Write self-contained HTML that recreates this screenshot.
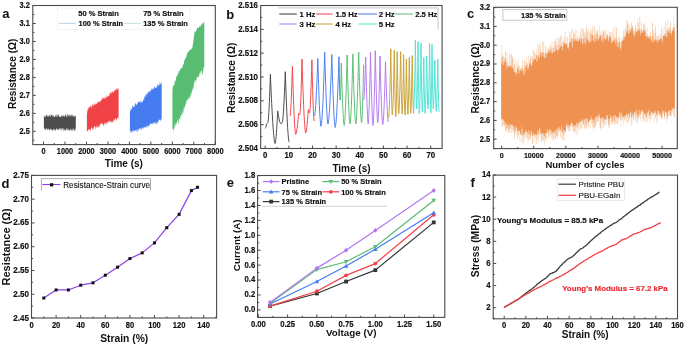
<!DOCTYPE html>
<html><head><meta charset="utf-8"><style>
html,body{margin:0;padding:0;background:#fff;}
svg{display:block;will-change:transform;}
text{font-family:"Liberation Sans",sans-serif;}
</style></head><body>
<svg width="685" height="345" viewBox="0 0 685 345">
<rect width="685" height="345" fill="#fff"/>
<rect x="57.6" y="8.1" width="132.4" height="21.4" fill="#fff" stroke="#f1f1f1" stroke-width="0.8"/>
<line x1="58.9" y1="23.4" x2="75.9" y2="23.4" stroke="#a9c6ef" stroke-width="0.8"/>
<line x1="124" y1="23.4" x2="141" y2="23.4" stroke="#b5e0c2" stroke-width="0.8"/>
<text x="78.30" y="16.20" font-size="7.50" font-weight="bold" text-anchor="start" fill="#111" stroke="#111" stroke-width="0.18">50 % Strain</text>
<text x="143.20" y="16.20" font-size="7.50" font-weight="bold" text-anchor="start" fill="#111" stroke="#111" stroke-width="0.18">75 % Strain</text>
<text x="78.50" y="25.70" font-size="7.50" font-weight="bold" text-anchor="start" fill="#111" stroke="#111" stroke-width="0.18">100 % Strain</text>
<text x="143.20" y="25.70" font-size="7.50" font-weight="bold" text-anchor="start" fill="#111" stroke="#111" stroke-width="0.18">135 % Strain</text>
<path d="M43.90,116.45 L44.15,115.25 L44.40,115.72 L44.65,117.05 L44.90,117.07 L45.16,117.04 L45.41,116.13 L45.66,116.95 L45.91,115.35 L46.16,115.56 L46.41,113.70 L46.66,114.30 L46.91,116.91 L47.17,116.50 L47.42,116.83 L47.67,115.30 L47.92,115.67 L48.17,117.05 L48.42,115.12 L48.67,116.48 L48.92,116.03 L49.17,114.61 L49.43,116.68 L49.68,115.76 L49.93,114.91 L50.18,113.68 L50.43,116.15 L50.68,116.89 L50.93,117.07 L51.18,114.75 L51.44,114.22 L51.69,115.06 L51.94,115.55 L52.19,114.39 L52.44,115.95 L52.69,117.05 L52.94,115.27 L53.19,114.48 L53.44,116.26 L53.70,117.09 L53.95,116.86 L54.20,117.05 L54.45,116.94 L54.70,116.24 L54.95,117.02 L55.20,115.67 L55.45,114.49 L55.71,116.58 L55.96,116.34 L56.21,113.80 L56.46,116.84 L56.71,116.70 L56.96,115.51 L57.21,117.10 L57.46,116.31 L57.71,113.82 L57.97,115.80 L58.22,115.14 L58.47,114.10 L58.72,114.22 L58.97,116.23 L59.22,116.98 L59.47,117.05 L59.72,116.76 L59.98,116.40 L60.23,117.10 L60.48,116.99 L60.73,117.09 L60.98,115.41 L61.23,116.65 L61.48,116.33 L61.73,114.35 L61.99,115.98 L62.24,117.01 L62.49,116.39 L62.74,114.44 L62.99,117.09 L63.24,115.75 L63.49,115.69 L63.74,115.75 L63.99,114.28 L64.25,116.63 L64.50,116.86 L64.75,115.73 L65.00,116.43 L65.25,114.53 L65.50,114.33 L65.75,114.49 L66.00,116.72 L66.26,116.35 L66.51,117.08 L66.76,116.64 L67.01,113.81 L67.26,113.91 L67.51,113.81 L67.76,116.74 L68.01,116.79 L68.26,115.36 L68.52,114.39 L68.77,115.24 L69.02,117.01 L69.27,114.05 L69.52,114.81 L69.77,116.83 L70.02,116.43 L70.27,113.73 L70.53,116.20 L70.78,114.93 L71.03,116.94 L71.28,114.07 L71.53,116.90 L71.78,113.68 L72.03,116.37 L72.28,116.93 L72.53,113.73 L72.79,115.75 L73.04,116.09 L73.29,114.46 L73.54,116.66 L73.79,116.68 L74.04,116.64 L74.29,116.93 L74.54,116.36 L74.80,115.53 L75.05,116.14 L75.30,115.85 L75.55,115.77 L75.80,116.07 L75.80,128.38 L75.55,128.11 L75.30,129.47 L75.05,131.19 L74.80,131.13 L74.54,129.19 L74.29,131.16 L74.04,129.05 L73.79,129.68 L73.54,128.66 L73.29,128.44 L73.04,130.97 L72.79,131.28 L72.53,129.94 L72.28,128.11 L72.03,129.53 L71.78,129.98 L71.53,130.74 L71.28,130.65 L71.03,128.31 L70.78,128.35 L70.53,131.34 L70.27,128.98 L70.02,130.62 L69.77,130.57 L69.52,129.26 L69.27,130.54 L69.02,129.99 L68.77,130.62 L68.52,129.27 L68.26,131.11 L68.01,128.43 L67.76,128.48 L67.51,128.88 L67.26,131.56 L67.01,129.15 L66.76,130.13 L66.51,128.62 L66.26,128.12 L66.00,129.41 L65.75,130.34 L65.50,130.65 L65.25,131.54 L65.00,128.47 L64.75,130.52 L64.50,130.49 L64.25,128.88 L63.99,130.14 L63.74,131.51 L63.49,128.12 L63.24,128.30 L62.99,131.36 L62.74,128.33 L62.49,128.58 L62.24,128.21 L61.99,129.28 L61.73,131.58 L61.48,128.25 L61.23,128.82 L60.98,128.30 L60.73,130.98 L60.48,128.87 L60.23,128.31 L59.98,128.14 L59.72,128.33 L59.47,128.16 L59.22,129.88 L58.97,128.99 L58.72,130.61 L58.47,130.52 L58.22,128.14 L57.97,129.81 L57.71,130.12 L57.46,129.60 L57.21,129.05 L56.96,128.57 L56.71,129.29 L56.46,128.49 L56.21,128.31 L55.96,131.03 L55.71,129.04 L55.45,130.93 L55.20,131.02 L54.95,129.16 L54.70,130.96 L54.45,128.53 L54.20,130.47 L53.95,128.24 L53.70,129.20 L53.44,130.02 L53.19,128.63 L52.94,131.58 L52.69,130.17 L52.44,130.01 L52.19,131.33 L51.94,129.18 L51.69,129.71 L51.44,128.72 L51.18,129.63 L50.93,130.02 L50.68,129.30 L50.43,130.42 L50.18,128.24 L49.93,128.64 L49.68,130.98 L49.43,129.63 L49.17,130.16 L48.92,128.68 L48.67,129.68 L48.42,129.08 L48.17,128.43 L47.92,128.16 L47.67,128.90 L47.42,129.66 L47.17,130.70 L46.91,128.24 L46.66,128.65 L46.41,128.14 L46.16,128.98 L45.91,131.35 L45.66,128.47 L45.41,130.75 L45.16,128.20 L44.90,129.11 L44.65,129.37 L44.40,128.88 L44.15,128.17 L43.90,128.31 Z" fill="#4e4e4e"/>
<path d="M86.90,114.30 L87.15,112.97 L87.40,109.67 L87.65,110.44 L87.91,108.46 L88.16,109.59 L88.41,109.11 L88.66,106.69 L88.91,107.65 L89.16,105.66 L89.42,107.19 L89.67,107.53 L89.92,107.62 L90.17,107.35 L90.42,106.12 L90.67,104.58 L90.93,106.48 L91.18,104.85 L91.43,107.71 L91.68,107.63 L91.93,107.47 L92.18,104.49 L92.43,106.96 L92.69,104.81 L92.94,103.43 L93.19,106.28 L93.44,105.50 L93.69,102.28 L93.94,105.94 L94.20,104.50 L94.45,105.51 L94.70,103.15 L94.95,103.82 L95.20,105.36 L95.45,103.15 L95.71,104.97 L95.96,101.96 L96.21,104.56 L96.46,104.50 L96.71,103.78 L96.96,103.06 L97.22,100.95 L97.47,103.62 L97.72,101.90 L97.97,103.42 L98.22,100.99 L98.47,103.11 L98.72,100.93 L98.98,102.76 L99.23,102.62 L99.48,101.25 L99.73,100.65 L99.98,101.61 L100.23,100.43 L100.49,101.70 L100.74,101.64 L100.99,100.80 L101.24,98.60 L101.49,99.71 L101.74,100.17 L102.00,100.33 L102.25,98.07 L102.50,100.17 L102.75,96.59 L103.00,97.10 L103.25,98.56 L103.50,98.82 L103.76,97.31 L104.01,98.68 L104.26,96.87 L104.51,98.11 L104.76,98.96 L105.01,98.76 L105.27,98.14 L105.52,98.40 L105.77,94.96 L106.02,97.55 L106.27,97.34 L106.52,97.58 L106.78,97.11 L107.03,93.51 L107.28,96.83 L107.53,96.45 L107.78,97.00 L108.03,95.47 L108.28,96.29 L108.54,96.50 L108.79,96.22 L109.04,96.13 L109.29,95.30 L109.54,93.96 L109.79,92.96 L110.05,92.97 L110.30,94.31 L110.55,91.09 L110.80,92.43 L111.05,94.78 L111.30,91.15 L111.56,91.87 L111.81,94.10 L112.06,92.66 L112.31,90.98 L112.56,91.96 L112.81,91.30 L113.07,93.02 L113.32,93.11 L113.57,93.01 L113.82,91.24 L114.07,90.75 L114.32,91.22 L114.57,89.52 L114.83,90.83 L115.08,89.92 L115.33,89.35 L115.58,91.72 L115.83,89.05 L116.08,88.83 L116.34,89.86 L116.59,89.76 L116.84,88.18 L117.09,88.66 L117.34,90.40 L117.59,87.80 L117.85,88.52 L118.10,90.07 L118.35,87.68 L118.60,87.49 L118.60,117.55 L118.35,119.39 L118.10,117.67 L117.85,117.18 L117.59,117.97 L117.34,117.90 L117.09,117.55 L116.84,119.57 L116.59,119.99 L116.34,118.72 L116.08,121.84 L115.83,118.31 L115.58,118.58 L115.33,118.63 L115.08,118.27 L114.83,119.92 L114.57,121.08 L114.32,118.48 L114.07,120.91 L113.82,120.73 L113.57,121.94 L113.32,119.75 L113.07,118.97 L112.81,121.44 L112.56,122.64 L112.31,122.35 L112.06,122.49 L111.81,120.99 L111.56,122.55 L111.30,121.66 L111.05,122.86 L110.80,121.93 L110.55,120.11 L110.30,120.74 L110.05,123.49 L109.79,122.37 L109.54,121.85 L109.29,120.80 L109.04,120.44 L108.79,121.57 L108.54,121.18 L108.28,122.20 L108.03,122.29 L107.78,121.88 L107.53,121.87 L107.28,125.03 L107.03,122.86 L106.78,125.19 L106.52,122.60 L106.27,122.75 L106.02,122.04 L105.77,123.92 L105.52,124.94 L105.27,122.10 L105.01,124.57 L104.76,122.20 L104.51,122.96 L104.26,124.31 L104.01,125.45 L103.76,126.43 L103.50,123.97 L103.25,125.74 L103.00,123.84 L102.75,122.90 L102.50,124.21 L102.25,124.64 L102.00,123.04 L101.74,123.13 L101.49,123.53 L101.24,123.96 L100.99,124.10 L100.74,123.87 L100.49,123.86 L100.23,124.17 L99.98,123.97 L99.73,127.58 L99.48,124.78 L99.23,127.39 L98.98,127.44 L98.72,127.23 L98.47,128.11 L98.22,125.58 L97.97,124.58 L97.72,127.05 L97.47,128.37 L97.22,125.34 L96.96,128.51 L96.71,125.18 L96.46,127.94 L96.21,125.74 L95.96,129.25 L95.71,129.42 L95.45,126.97 L95.20,126.33 L94.95,126.85 L94.70,125.74 L94.45,126.57 L94.20,126.73 L93.94,127.18 L93.69,129.26 L93.44,127.61 L93.19,130.15 L92.94,130.34 L92.69,126.69 L92.43,129.08 L92.18,130.19 L91.93,129.03 L91.68,127.33 L91.43,128.16 L91.18,127.24 L90.93,130.93 L90.67,127.76 L90.42,130.72 L90.17,131.20 L89.92,129.11 L89.67,129.98 L89.42,129.17 L89.16,129.00 L88.91,130.62 L88.66,129.46 L88.41,128.65 L88.16,129.89 L87.91,131.26 L87.65,130.38 L87.40,131.01 L87.15,131.10 L86.90,133.17 Z" fill="#f04247"/>
<path d="M129.90,111.89 L130.15,111.59 L130.40,109.25 L130.65,108.33 L130.90,111.23 L131.15,108.14 L131.40,109.20 L131.65,109.44 L131.90,108.94 L132.15,108.67 L132.40,105.38 L132.65,105.83 L132.90,105.29 L133.16,107.64 L133.41,106.63 L133.66,107.61 L133.91,106.34 L134.16,107.01 L134.41,106.37 L134.66,106.78 L134.91,103.87 L135.16,103.23 L135.41,103.15 L135.66,105.16 L135.91,102.24 L136.16,104.78 L136.41,104.83 L136.66,105.01 L136.91,104.38 L137.16,104.28 L137.41,103.28 L137.66,103.67 L137.91,101.46 L138.16,102.54 L138.41,101.00 L138.66,101.98 L138.91,101.84 L139.16,101.66 L139.41,103.33 L139.67,100.64 L139.92,102.55 L140.17,103.04 L140.42,100.13 L140.67,101.56 L140.92,101.88 L141.17,103.02 L141.42,102.84 L141.67,101.85 L141.92,99.96 L142.17,101.85 L142.42,102.53 L142.67,101.79 L142.92,101.63 L143.17,100.07 L143.42,98.85 L143.67,99.74 L143.92,99.42 L144.17,99.72 L144.42,95.97 L144.67,97.61 L144.92,95.60 L145.17,97.51 L145.42,96.79 L145.67,94.08 L145.93,94.16 L146.18,96.69 L146.43,93.40 L146.68,94.47 L146.93,94.87 L147.18,92.77 L147.43,91.71 L147.68,94.63 L147.93,93.11 L148.18,90.90 L148.43,91.95 L148.68,92.37 L148.93,93.11 L149.18,92.42 L149.43,90.66 L149.68,92.13 L149.93,90.34 L150.18,91.84 L150.43,90.48 L150.68,90.81 L150.93,89.87 L151.18,90.77 L151.43,87.89 L151.68,88.11 L151.93,90.48 L152.19,87.41 L152.44,89.97 L152.69,89.18 L152.94,89.30 L153.19,88.18 L153.44,89.57 L153.69,89.10 L153.94,87.65 L154.19,86.97 L154.44,88.06 L154.69,85.80 L154.94,86.40 L155.19,88.49 L155.44,88.13 L155.69,87.31 L155.94,88.01 L156.19,86.32 L156.44,87.87 L156.69,87.53 L156.94,87.50 L157.19,87.45 L157.44,84.32 L157.69,84.92 L157.94,83.77 L158.19,86.46 L158.44,84.29 L158.70,84.46 L158.95,85.37 L159.20,85.74 L159.45,85.28 L159.70,82.32 L159.95,82.09 L160.20,84.48 L160.45,82.42 L160.70,84.82 L160.95,83.87 L161.20,84.18 L161.45,81.30 L161.70,83.17 L161.70,120.57 L161.45,118.17 L161.20,119.08 L160.95,121.56 L160.70,119.76 L160.45,119.77 L160.20,121.54 L159.95,119.41 L159.70,119.38 L159.45,120.12 L159.20,119.54 L158.95,120.36 L158.70,120.67 L158.44,120.02 L158.19,123.34 L157.94,120.97 L157.69,123.97 L157.44,123.54 L157.19,121.64 L156.94,120.96 L156.69,124.46 L156.44,122.10 L156.19,124.64 L155.94,122.46 L155.69,121.87 L155.44,124.93 L155.19,124.06 L154.94,122.19 L154.69,122.48 L154.44,122.27 L154.19,124.25 L153.94,122.39 L153.69,123.12 L153.44,122.25 L153.19,125.43 L152.94,122.83 L152.69,124.39 L152.44,122.52 L152.19,124.66 L151.93,123.08 L151.68,123.88 L151.43,124.62 L151.18,123.97 L150.93,122.94 L150.68,123.38 L150.43,124.64 L150.18,123.21 L149.93,125.30 L149.68,123.85 L149.43,124.15 L149.18,126.83 L148.93,126.32 L148.68,125.49 L148.43,126.56 L148.18,126.52 L147.93,126.51 L147.68,124.90 L147.43,125.28 L147.18,127.79 L146.93,128.31 L146.68,125.33 L146.43,126.63 L146.18,127.75 L145.93,125.82 L145.67,128.72 L145.42,127.18 L145.17,126.72 L144.92,126.78 L144.67,128.26 L144.42,126.74 L144.17,127.17 L143.92,127.43 L143.67,128.15 L143.42,127.83 L143.17,129.91 L142.92,127.51 L142.67,127.22 L142.42,127.30 L142.17,127.47 L141.92,130.86 L141.67,127.80 L141.42,130.55 L141.17,127.83 L140.92,128.55 L140.67,128.33 L140.42,128.30 L140.17,130.15 L139.92,128.70 L139.67,128.23 L139.41,128.18 L139.16,130.04 L138.91,129.37 L138.66,128.42 L138.41,129.89 L138.16,131.61 L137.91,131.19 L137.66,131.98 L137.41,129.06 L137.16,129.33 L136.91,132.10 L136.66,131.66 L136.41,129.06 L136.16,130.06 L135.91,130.72 L135.66,130.05 L135.41,129.79 L135.16,131.41 L134.91,129.49 L134.66,131.68 L134.41,132.16 L134.16,130.21 L133.91,130.14 L133.66,130.82 L133.41,129.67 L133.16,132.71 L132.90,131.84 L132.65,131.10 L132.40,130.04 L132.15,131.26 L131.90,131.54 L131.65,133.27 L131.40,130.57 L131.15,133.49 L130.90,131.28 L130.65,133.43 L130.40,130.61 L130.15,130.49 L129.90,131.51 Z" fill="#477bf0"/>
<path d="M172.40,88.15 L172.65,89.62 L172.90,86.17 L173.15,86.27 L173.40,87.05 L173.66,84.03 L173.91,85.94 L174.16,85.15 L174.41,85.06 L174.66,81.60 L174.91,80.82 L175.16,82.73 L175.41,79.35 L175.67,80.80 L175.92,79.90 L176.17,77.17 L176.42,76.96 L176.67,76.11 L176.92,76.21 L177.17,76.38 L177.42,73.97 L177.67,75.14 L177.93,74.25 L178.18,73.86 L178.43,72.74 L178.68,70.36 L178.93,72.26 L179.18,72.28 L179.43,70.14 L179.68,71.37 L179.94,69.84 L180.19,69.02 L180.44,69.03 L180.69,67.98 L180.94,68.76 L181.19,67.77 L181.44,69.09 L181.69,68.97 L181.94,67.43 L182.20,67.72 L182.45,67.04 L182.70,65.39 L182.95,63.83 L183.20,65.22 L183.45,63.08 L183.70,64.79 L183.95,63.96 L184.21,60.30 L184.46,59.77 L184.71,59.34 L184.96,60.77 L185.21,57.53 L185.46,58.27 L185.71,58.70 L185.96,58.13 L186.21,57.16 L186.47,55.16 L186.72,56.12 L186.97,53.61 L187.22,54.12 L187.47,51.68 L187.72,53.17 L187.97,52.05 L188.22,50.98 L188.48,52.17 L188.73,51.32 L188.98,51.38 L189.23,51.14 L189.48,50.79 L189.73,48.67 L189.98,50.31 L190.23,48.80 L190.49,50.56 L190.74,49.45 L190.99,49.27 L191.24,48.87 L191.49,49.64 L191.74,47.78 L191.99,49.10 L192.24,48.03 L192.49,47.12 L192.75,44.65 L193.00,44.29 L193.25,40.64 L193.50,41.22 L193.75,37.12 L194.00,37.53 L194.25,34.30 L194.50,32.96 L194.76,31.86 L195.01,31.41 L195.26,32.39 L195.51,30.36 L195.76,32.01 L196.01,30.71 L196.26,31.33 L196.51,29.06 L196.76,30.57 L197.02,28.06 L197.27,27.27 L197.52,27.92 L197.77,27.62 L198.02,28.13 L198.27,27.92 L198.52,27.65 L198.77,28.39 L199.03,27.11 L199.28,25.87 L199.53,26.81 L199.78,26.56 L200.03,27.26 L200.28,27.11 L200.53,25.84 L200.78,25.18 L201.03,24.59 L201.29,25.23 L201.54,25.06 L201.79,23.04 L202.04,23.26 L202.29,23.60 L202.54,25.13 L202.79,24.10 L203.04,22.20 L203.30,22.56 L203.55,24.55 L203.80,22.30 L204.05,21.48 L204.30,21.64 L204.30,66.35 L204.05,67.22 L203.80,67.00 L203.55,68.22 L203.30,72.93 L203.04,67.91 L202.79,73.76 L202.54,74.31 L202.29,73.17 L202.04,75.21 L201.79,69.54 L201.54,71.09 L201.29,70.06 L201.03,74.75 L200.78,70.89 L200.53,71.17 L200.28,73.37 L200.03,73.68 L199.78,72.47 L199.53,73.11 L199.28,77.41 L199.03,74.11 L198.77,76.88 L198.52,76.00 L198.27,77.94 L198.02,77.74 L197.77,76.36 L197.52,78.27 L197.27,76.29 L197.02,76.46 L196.76,79.49 L196.51,82.61 L196.26,78.33 L196.01,79.44 L195.76,79.92 L195.51,79.18 L195.26,84.04 L195.01,80.11 L194.76,80.23 L194.50,83.32 L194.25,82.55 L194.00,81.90 L193.75,88.81 L193.50,83.75 L193.25,90.36 L193.00,87.30 L192.75,91.61 L192.49,87.70 L192.24,89.85 L191.99,91.51 L191.74,94.74 L191.49,92.63 L191.24,91.05 L190.99,96.45 L190.74,96.41 L190.49,97.65 L190.23,93.27 L189.98,93.75 L189.73,100.07 L189.48,95.94 L189.23,97.46 L188.98,101.20 L188.73,96.72 L188.48,99.98 L188.22,96.95 L187.97,99.90 L187.72,98.01 L187.47,100.91 L187.22,99.41 L186.97,99.85 L186.72,101.05 L186.47,100.95 L186.21,103.93 L185.96,102.18 L185.71,103.65 L185.46,105.96 L185.21,103.68 L184.96,108.48 L184.71,106.64 L184.46,106.80 L184.21,108.82 L183.95,107.12 L183.70,108.24 L183.45,113.44 L183.20,113.22 L182.95,109.31 L182.70,113.10 L182.45,111.06 L182.20,117.30 L181.94,112.79 L181.69,117.55 L181.44,113.63 L181.19,114.05 L180.94,115.56 L180.69,115.75 L180.44,115.63 L180.19,120.84 L179.94,119.74 L179.68,118.27 L179.43,118.81 L179.18,119.49 L178.93,117.74 L178.68,124.22 L178.43,124.49 L178.18,121.25 L177.93,119.08 L177.67,123.50 L177.42,119.80 L177.17,121.40 L176.92,121.55 L176.67,125.05 L176.42,125.11 L176.17,121.89 L175.92,123.96 L175.67,122.89 L175.41,128.39 L175.16,124.87 L174.91,123.24 L174.66,127.08 L174.41,128.68 L174.16,126.03 L173.91,129.61 L173.66,129.46 L173.40,127.90 L173.15,133.07 L172.90,129.08 L172.65,128.97 L172.40,129.55 Z" fill="#58bc72"/>
<rect x="32.8" y="5.5" width="182.5" height="139.1" fill="none" stroke="#4a4a4a" stroke-width="1.1"/>
<line x1="32.80" y1="131.30" x2="35.80" y2="131.30" stroke="#4a4a4a" stroke-width="1"/>
<line x1="32.80" y1="113.33" x2="35.80" y2="113.33" stroke="#4a4a4a" stroke-width="1"/>
<line x1="32.80" y1="95.36" x2="35.80" y2="95.36" stroke="#4a4a4a" stroke-width="1"/>
<line x1="32.80" y1="77.39" x2="35.80" y2="77.39" stroke="#4a4a4a" stroke-width="1"/>
<line x1="32.80" y1="59.42" x2="35.80" y2="59.42" stroke="#4a4a4a" stroke-width="1"/>
<line x1="32.80" y1="41.45" x2="35.80" y2="41.45" stroke="#4a4a4a" stroke-width="1"/>
<line x1="32.80" y1="23.48" x2="35.80" y2="23.48" stroke="#4a4a4a" stroke-width="1"/>
<line x1="32.80" y1="5.51" x2="35.80" y2="5.51" stroke="#4a4a4a" stroke-width="1"/>
<line x1="32.80" y1="140.28" x2="34.40" y2="140.28" stroke="#4a4a4a" stroke-width="1"/>
<line x1="32.80" y1="122.31" x2="34.40" y2="122.31" stroke="#4a4a4a" stroke-width="1"/>
<line x1="32.80" y1="104.34" x2="34.40" y2="104.34" stroke="#4a4a4a" stroke-width="1"/>
<line x1="32.80" y1="86.38" x2="34.40" y2="86.38" stroke="#4a4a4a" stroke-width="1"/>
<line x1="32.80" y1="68.41" x2="34.40" y2="68.41" stroke="#4a4a4a" stroke-width="1"/>
<line x1="32.80" y1="50.43" x2="34.40" y2="50.43" stroke="#4a4a4a" stroke-width="1"/>
<line x1="32.80" y1="32.46" x2="34.40" y2="32.46" stroke="#4a4a4a" stroke-width="1"/>
<line x1="32.80" y1="14.49" x2="34.40" y2="14.49" stroke="#4a4a4a" stroke-width="1"/>
<line x1="43.54" y1="144.60" x2="43.54" y2="141.60" stroke="#4a4a4a" stroke-width="1"/>
<line x1="65.01" y1="144.60" x2="65.01" y2="141.60" stroke="#4a4a4a" stroke-width="1"/>
<line x1="86.48" y1="144.60" x2="86.48" y2="141.60" stroke="#4a4a4a" stroke-width="1"/>
<line x1="107.95" y1="144.60" x2="107.95" y2="141.60" stroke="#4a4a4a" stroke-width="1"/>
<line x1="129.42" y1="144.60" x2="129.42" y2="141.60" stroke="#4a4a4a" stroke-width="1"/>
<line x1="150.89" y1="144.60" x2="150.89" y2="141.60" stroke="#4a4a4a" stroke-width="1"/>
<line x1="172.36" y1="144.60" x2="172.36" y2="141.60" stroke="#4a4a4a" stroke-width="1"/>
<line x1="193.83" y1="144.60" x2="193.83" y2="141.60" stroke="#4a4a4a" stroke-width="1"/>
<line x1="215.30" y1="144.60" x2="215.30" y2="141.60" stroke="#4a4a4a" stroke-width="1"/>
<line x1="54.27" y1="144.60" x2="54.27" y2="143.00" stroke="#4a4a4a" stroke-width="1"/>
<line x1="75.74" y1="144.60" x2="75.74" y2="143.00" stroke="#4a4a4a" stroke-width="1"/>
<line x1="97.21" y1="144.60" x2="97.21" y2="143.00" stroke="#4a4a4a" stroke-width="1"/>
<line x1="118.68" y1="144.60" x2="118.68" y2="143.00" stroke="#4a4a4a" stroke-width="1"/>
<line x1="140.16" y1="144.60" x2="140.16" y2="143.00" stroke="#4a4a4a" stroke-width="1"/>
<line x1="161.63" y1="144.60" x2="161.63" y2="143.00" stroke="#4a4a4a" stroke-width="1"/>
<line x1="183.10" y1="144.60" x2="183.10" y2="143.00" stroke="#4a4a4a" stroke-width="1"/>
<line x1="204.57" y1="144.60" x2="204.57" y2="143.00" stroke="#4a4a4a" stroke-width="1"/>
<text x="29.80" y="133.70" font-size="8.29" font-weight="bold" text-anchor="end" fill="#111" stroke="#111" stroke-width="0.18" textLength="10.29" lengthAdjust="spacingAndGlyphs">2.5</text>
<text x="29.80" y="115.73" font-size="8.29" font-weight="bold" text-anchor="end" fill="#111" stroke="#111" stroke-width="0.18" textLength="10.29" lengthAdjust="spacingAndGlyphs">2.6</text>
<text x="29.80" y="97.76" font-size="8.29" font-weight="bold" text-anchor="end" fill="#111" stroke="#111" stroke-width="0.18" textLength="10.29" lengthAdjust="spacingAndGlyphs">2.7</text>
<text x="29.80" y="79.79" font-size="8.29" font-weight="bold" text-anchor="end" fill="#111" stroke="#111" stroke-width="0.18" textLength="10.29" lengthAdjust="spacingAndGlyphs">2.8</text>
<text x="29.80" y="61.82" font-size="8.29" font-weight="bold" text-anchor="end" fill="#111" stroke="#111" stroke-width="0.18" textLength="10.29" lengthAdjust="spacingAndGlyphs">2.9</text>
<text x="29.80" y="43.85" font-size="8.29" font-weight="bold" text-anchor="end" fill="#111" stroke="#111" stroke-width="0.18" textLength="10.29" lengthAdjust="spacingAndGlyphs">3.0</text>
<text x="29.80" y="25.88" font-size="8.29" font-weight="bold" text-anchor="end" fill="#111" stroke="#111" stroke-width="0.18" textLength="10.29" lengthAdjust="spacingAndGlyphs">3.1</text>
<text x="29.80" y="7.91" font-size="8.29" font-weight="bold" text-anchor="end" fill="#111" stroke="#111" stroke-width="0.18" textLength="10.29" lengthAdjust="spacingAndGlyphs">3.2</text>
<text x="43.54" y="153.90" font-size="8.29" font-weight="bold" text-anchor="middle" fill="#111" stroke="#111" stroke-width="0.18" textLength="4.12" lengthAdjust="spacingAndGlyphs">0</text>
<text x="65.01" y="153.90" font-size="8.29" font-weight="bold" text-anchor="middle" fill="#111" stroke="#111" stroke-width="0.18" textLength="16.46" lengthAdjust="spacingAndGlyphs">1000</text>
<text x="86.48" y="153.90" font-size="8.29" font-weight="bold" text-anchor="middle" fill="#111" stroke="#111" stroke-width="0.18" textLength="16.46" lengthAdjust="spacingAndGlyphs">2000</text>
<text x="107.95" y="153.90" font-size="8.29" font-weight="bold" text-anchor="middle" fill="#111" stroke="#111" stroke-width="0.18" textLength="16.46" lengthAdjust="spacingAndGlyphs">3000</text>
<text x="129.42" y="153.90" font-size="8.29" font-weight="bold" text-anchor="middle" fill="#111" stroke="#111" stroke-width="0.18" textLength="16.46" lengthAdjust="spacingAndGlyphs">4000</text>
<text x="150.89" y="153.90" font-size="8.29" font-weight="bold" text-anchor="middle" fill="#111" stroke="#111" stroke-width="0.18" textLength="16.46" lengthAdjust="spacingAndGlyphs">5000</text>
<text x="172.36" y="153.90" font-size="8.29" font-weight="bold" text-anchor="middle" fill="#111" stroke="#111" stroke-width="0.18" textLength="16.46" lengthAdjust="spacingAndGlyphs">6000</text>
<text x="193.83" y="153.90" font-size="8.29" font-weight="bold" text-anchor="middle" fill="#111" stroke="#111" stroke-width="0.18" textLength="16.46" lengthAdjust="spacingAndGlyphs">7000</text>
<text x="215.30" y="153.90" font-size="8.29" font-weight="bold" text-anchor="middle" fill="#111" stroke="#111" stroke-width="0.18" textLength="16.46" lengthAdjust="spacingAndGlyphs">8000</text>
<text x="123.80" y="166.50" font-size="10.00" font-weight="bold" text-anchor="middle" fill="#111" stroke="#111" stroke-width="0.0">Time (s)</text>
<text x="16.30" y="73.80" font-size="10.00" font-weight="bold" text-anchor="middle" fill="#111" stroke="#111" stroke-width="0.0" transform="rotate(-90 16.3 73.8)">Resistance (Ω)</text>
<text x="2.30" y="18.40" font-size="13.00" font-weight="bold" text-anchor="start" fill="#111" stroke="#111" stroke-width="0.0">a</text>
<rect x="278.4" y="7.9" width="159.6" height="21" fill="#fff" stroke="none"/>
<path d="M278.4,7.9 H438 V28.9" fill="none" stroke="#bdbdbd" stroke-width="0.9"/>
<line x1="279.3" y1="14" x2="296.8" y2="14" stroke="#333" stroke-width="1"/>
<text x="299.50" y="16.80" font-size="7.70" font-weight="bold" text-anchor="start" fill="#111" stroke="#111" stroke-width="0.18">1 Hz</text>
<line x1="316" y1="14" x2="332.7" y2="14" stroke="#f04247" stroke-width="1"/>
<text x="335.40" y="16.80" font-size="7.70" font-weight="bold" text-anchor="start" fill="#111" stroke="#111" stroke-width="0.18">1.5 Hz</text>
<line x1="358" y1="14" x2="377" y2="14" stroke="#477bf0" stroke-width="1"/>
<text x="378.80" y="16.80" font-size="7.70" font-weight="bold" text-anchor="start" fill="#111" stroke="#111" stroke-width="0.18">2 Hz</text>
<line x1="395" y1="14" x2="413" y2="14" stroke="#58bc72" stroke-width="1"/>
<text x="415.20" y="16.80" font-size="7.70" font-weight="bold" text-anchor="start" fill="#111" stroke="#111" stroke-width="0.18">2.5 Hz</text>
<line x1="279.3" y1="24" x2="296.8" y2="24" stroke="#b277f0" stroke-width="1"/>
<text x="299.50" y="26.80" font-size="7.70" font-weight="bold" text-anchor="start" fill="#111" stroke="#111" stroke-width="0.18">3 Hz</text>
<line x1="316" y1="24" x2="332.7" y2="24" stroke="#c9a031" stroke-width="1"/>
<text x="335.40" y="26.80" font-size="7.70" font-weight="bold" text-anchor="start" fill="#111" stroke="#111" stroke-width="0.18">4 Hz</text>
<line x1="358.7" y1="24" x2="377" y2="24" stroke="#4fe3d4" stroke-width="1"/>
<text x="378.80" y="26.80" font-size="7.70" font-weight="bold" text-anchor="start" fill="#111" stroke="#111" stroke-width="0.18">5 Hz</text>
<path d="M265.20,128.40 L265.46,128.11 L265.72,127.47 L265.98,126.55 L266.24,125.39 L266.50,124.00 L266.76,123.91 L267.02,123.71 L267.28,123.41 L267.54,123.04 L267.80,122.60 L268.06,121.64 L268.32,119.47 L268.58,116.36 L268.84,112.43 L269.10,107.73 L269.36,102.33 L269.62,96.26 L269.88,89.55 L270.14,82.22 L270.40,74.30 L270.66,80.71 L270.92,86.86 L271.18,92.74 L271.44,98.36 L271.71,103.70 L271.97,108.77 L272.23,113.54 L272.49,118.02 L272.75,122.20 L273.01,126.07 L273.27,129.61 L273.53,132.81 L273.79,135.66 L274.06,138.13 L274.32,140.21 L274.58,141.85 L274.84,142.99 L275.10,143.50 L275.36,142.85 L275.62,141.39 L275.88,139.29 L276.14,136.63 L276.40,133.47 L276.66,129.82 L276.92,125.72 L277.18,121.19 L277.44,116.25 L277.70,110.90 L277.97,112.69 L278.23,114.36 L278.50,115.93 L278.77,117.37 L279.03,118.70 L279.30,119.90 L279.57,120.97 L279.83,121.89 L280.10,122.67 L280.37,123.28 L280.63,123.71 L280.90,123.90 L281.16,123.82 L281.42,123.63 L281.68,123.35 L281.94,123.01 L282.20,122.60 L282.46,121.86 L282.72,120.18 L282.98,117.78 L283.23,114.74 L283.49,111.11 L283.75,106.93 L284.01,102.24 L284.27,97.05 L284.52,91.39 L284.78,85.27 L285.04,78.70 L285.30,71.70 L285.56,79.50 L285.82,86.92 L286.08,93.96 L286.34,100.59 L286.60,106.81 L286.86,112.62 L287.12,117.98 L287.38,122.90 L287.64,127.35 L287.90,131.31 L288.16,134.75 L288.42,137.63 L288.68,139.91 L288.94,141.49 L289.20,142.20" fill="none" stroke="#444" stroke-width="0.95" stroke-linejoin="round"/>
<path d="M290.00,116.10 L290.27,114.91 L290.53,112.25 L290.80,108.42 L291.07,103.58 L291.33,97.80 L291.60,91.15 L291.87,83.68 L292.13,75.42 L292.40,66.40 L292.65,75.05 L292.91,83.21 L293.16,90.87 L293.42,98.01 L293.67,104.61 L293.92,110.66 L294.18,116.13 L294.43,121.00 L294.68,125.23 L294.94,128.78 L295.19,131.58 L295.45,133.53 L295.70,134.40 L295.96,134.05 L296.23,133.25 L296.49,132.10 L296.75,130.66 L297.02,128.93 L297.28,126.94 L297.55,124.71 L297.81,122.24 L298.07,119.54 L298.34,116.63 L298.60,113.50 L298.88,114.00 L299.15,114.40 L299.43,114.68 L299.70,114.80 L299.96,113.47 L300.21,110.47 L300.47,106.18 L300.72,100.74 L300.98,94.26 L301.23,86.79 L301.49,78.40 L301.74,69.13 L302.00,59.00 L302.26,67.76 L302.53,76.06 L302.79,83.89 L303.06,91.23 L303.32,98.08 L303.59,104.42 L303.85,110.22 L304.11,115.47 L304.38,120.15 L304.64,124.20 L304.91,127.61 L305.17,130.29 L305.44,132.17 L305.70,133.00 L305.96,132.53 L306.22,131.48 L306.48,129.98 L306.74,128.07 L307.00,125.80 L307.26,123.18 L307.52,120.24 L307.78,116.99 L308.04,113.44 L308.30,109.60 L308.60,110.92 L308.90,111.95 L309.20,112.68 L309.50,113.00 L309.77,111.73 L310.03,108.87 L310.30,104.78 L310.57,99.60 L310.83,93.41 L311.10,86.30 L311.37,78.30 L311.63,69.45 L311.90,59.80 L312.16,70.91 L312.41,81.08 L312.67,90.28 L312.92,98.47 L313.18,105.58 L313.43,111.55 L313.69,116.25 L313.94,119.54 L314.20,121.00" fill="none" stroke="#f04247" stroke-width="0.95" stroke-linejoin="round"/>
<path d="M314.50,115.90 L314.75,115.17 L315.01,113.52 L315.26,111.15 L315.52,108.16 L315.77,104.59 L316.02,100.48 L316.28,95.86 L316.53,90.75 L316.78,85.18 L317.04,79.15 L317.29,72.69 L317.55,65.80 L317.80,58.50 L318.07,67.84 L318.33,76.60 L318.60,84.76 L318.87,92.32 L319.13,99.24 L319.40,105.50 L319.67,111.07 L319.93,115.91 L320.20,119.97 L320.47,123.17 L320.73,125.41 L321.00,126.40 L321.26,125.56 L321.53,123.69 L321.79,120.99 L322.06,117.58 L322.32,113.51 L322.59,108.83 L322.85,103.56 L323.11,97.74 L323.38,91.39 L323.64,84.52 L323.91,77.16 L324.17,69.31 L324.44,60.98 L324.70,52.20 L324.95,61.33 L325.21,69.95 L325.46,78.04 L325.72,85.57 L325.97,92.55 L326.22,98.93 L326.48,104.71 L326.73,109.85 L326.98,114.32 L327.24,118.06 L327.49,121.02 L327.75,123.08 L328.00,124.00 L328.25,123.30 L328.51,121.74 L328.76,119.49 L329.01,116.65 L329.27,113.26 L329.52,109.36 L329.77,104.98 L330.03,100.13 L330.28,94.84 L330.53,89.12 L330.79,82.98 L331.04,76.44 L331.29,69.51 L331.55,62.19 L331.80,54.50 L332.06,63.79 L332.32,72.55 L332.58,80.77 L332.85,88.43 L333.11,95.52 L333.37,102.01 L333.63,107.89 L333.89,113.12 L334.15,117.66 L334.42,121.46 L334.68,124.47 L334.94,126.57 L335.20,127.50 L335.45,126.79 L335.71,125.20 L335.96,122.92 L336.21,120.03 L336.47,116.58 L336.72,112.61 L336.97,108.15 L337.23,103.22 L337.48,97.83 L337.73,92.01 L337.99,85.77 L338.24,79.12 L338.49,72.07 L338.75,64.62 L339.00,56.80 L339.30,73.51 L339.60,86.70 L339.90,95.91 L340.20,100.00" fill="none" stroke="#477bf0" stroke-width="0.95" stroke-linejoin="round"/>
<path d="M340.20,100.00 L340.48,96.51 L340.75,88.67 L341.02,77.43 L341.30,63.20 L341.56,72.52 L341.83,81.21 L342.09,89.24 L342.35,96.61 L342.62,103.27 L342.88,109.19 L343.15,114.34 L343.41,118.66 L343.67,122.07 L343.94,124.44 L344.20,125.50 L344.46,124.30 L344.73,121.61 L344.99,117.76 L345.25,112.87 L345.52,107.05 L345.78,100.34 L346.05,92.80 L346.31,84.47 L346.57,75.38 L346.84,65.55 L347.10,55.00 L347.36,65.32 L347.63,74.94 L347.89,83.85 L348.15,92.00 L348.42,99.38 L348.68,105.94 L348.95,111.64 L349.21,116.42 L349.47,120.20 L349.74,122.83 L350.00,124.00 L350.26,122.81 L350.53,120.14 L350.79,116.30 L351.05,111.44 L351.32,105.65 L351.58,98.98 L351.85,91.49 L352.11,83.21 L352.37,74.16 L352.64,64.39 L352.90,53.90 L353.16,64.39 L353.43,74.16 L353.69,83.21 L353.95,91.49 L354.22,98.98 L354.48,105.65 L354.75,111.44 L355.01,116.30 L355.27,120.14 L355.54,122.81 L355.80,124.00 L356.06,122.78 L356.33,120.04 L356.59,116.11 L356.85,111.14 L357.12,105.21 L357.38,98.38 L357.65,90.70 L357.91,82.22 L358.17,72.95 L358.44,62.94 L358.70,52.20 L358.96,62.73 L359.23,72.55 L359.49,81.63 L359.75,89.95 L360.02,97.48 L360.28,104.17 L360.55,109.99 L360.81,114.87 L361.07,118.72 L361.34,121.41 L361.60,122.60 L361.85,120.91 L362.10,117.11 L362.35,111.65 L362.60,104.75 L362.85,96.51 L363.10,87.03 L363.35,76.38 L363.60,64.60" fill="none" stroke="#58bc72" stroke-width="0.95" stroke-linejoin="round"/>
<path d="M363.60,100.00 L363.86,98.75 L364.12,95.93 L364.39,91.88 L364.65,86.77 L364.91,80.66 L365.18,73.63 L365.44,65.73 L365.70,57.00 L365.95,67.99 L366.20,78.15 L366.45,87.46 L366.70,95.89 L366.95,103.38 L367.20,109.89 L367.45,115.35 L367.70,119.66 L367.95,122.66 L368.20,124.00 L368.46,122.29 L368.71,118.44 L368.97,112.92 L369.22,105.94 L369.48,97.60 L369.73,88.01 L369.99,77.23 L370.24,65.31 L370.50,52.30 L370.75,64.30 L371.00,75.41 L371.25,85.58 L371.50,94.78 L371.75,102.97 L372.00,110.08 L372.25,116.05 L372.50,120.75 L372.75,124.04 L373.00,125.50 L373.26,123.71 L373.51,119.70 L373.77,113.94 L374.02,106.66 L374.28,97.96 L374.53,87.96 L374.79,76.71 L375.04,64.27 L375.30,50.70 L375.55,62.47 L375.80,73.37 L376.05,83.34 L376.30,92.37 L376.55,100.40 L376.80,107.38 L377.05,113.23 L377.30,117.85 L377.55,121.07 L377.80,122.50 L378.07,120.56 L378.35,116.20 L378.62,109.95 L378.90,102.03 L379.18,92.59 L379.45,81.72 L379.73,69.50 L380.00,56.00 L380.25,66.25 L380.51,75.80 L380.76,84.64 L381.02,92.73 L381.27,100.06 L381.53,106.57 L381.78,112.23 L382.04,116.98 L382.29,120.72 L382.55,123.34 L382.80,124.50 L383.07,123.25 L383.34,120.44 L383.61,116.40 L383.88,111.29 L384.15,105.20 L384.42,98.19 L384.69,90.31 L384.96,81.59 L385.23,72.08 L385.50,61.80 L385.76,70.80 L386.03,79.20 L386.29,86.97 L386.55,94.08 L386.82,100.52 L387.08,106.24 L387.35,111.22 L387.61,115.39 L387.87,118.68 L388.14,120.98 L388.40,122.00" fill="none" stroke="#b277f0" stroke-width="0.95" stroke-linejoin="round"/>
<path d="M388.60,118.00 L388.88,115.98 L389.15,111.44 L389.43,104.94 L389.70,96.70 L389.98,86.88 L390.25,75.57 L390.53,62.85 L390.80,48.80 L391.05,66.45 L391.30,81.78 L391.55,94.63 L391.80,104.78 L392.05,111.86 L392.30,115.01 L392.55,113.12 L392.80,108.88 L393.05,102.80 L393.30,95.09 L393.55,85.90 L393.80,75.33 L394.05,63.44 L394.30,50.30 L394.55,67.99 L394.80,83.36 L395.05,96.25 L395.30,106.42 L395.55,113.52 L395.80,116.68 L396.08,112.47 L396.36,102.99 L396.64,89.41 L396.92,72.21 L397.20,51.70 L397.45,68.26 L397.70,82.65 L397.95,94.71 L398.20,104.23 L398.45,110.88 L398.70,113.83 L398.95,112.02 L399.20,107.95 L399.45,102.11 L399.70,94.71 L399.95,85.89 L400.20,75.73 L400.45,64.32 L400.70,51.70 L400.95,68.32 L401.20,82.76 L401.45,94.86 L401.70,104.42 L401.95,111.09 L402.20,114.05 L402.48,110.20 L402.76,101.53 L403.04,89.10 L403.32,73.37 L403.60,54.60 L403.85,70.70 L404.10,84.70 L404.35,96.43 L404.60,105.69 L404.85,112.15 L405.10,115.02 L405.36,111.39 L405.62,103.22 L405.88,91.52 L406.14,76.69 L406.40,59.00 L406.65,73.73 L406.90,86.53 L407.15,97.26 L407.40,105.74 L407.65,111.65 L407.90,114.28 L408.18,110.60 L408.46,102.32 L408.74,90.45 L409.02,75.42 L409.30,57.50 L409.55,72.33 L409.80,85.22 L410.05,96.02 L410.30,104.55 L410.55,110.50 L410.80,113.15 L411.08,109.41 L411.36,101.01 L411.64,88.96 L411.92,73.70 L412.20,55.50 L412.45,71.02 L412.70,84.50 L412.95,95.81 L413.20,104.73 L413.45,110.96 L413.70,113.73" fill="none" stroke="#c9a031" stroke-width="0.95" stroke-linejoin="round"/>
<path d="M413.60,112.00 L413.86,109.37 L414.11,103.44 L414.37,94.95 L414.63,84.19 L414.89,71.36 L415.14,56.60 L415.40,40.00 L415.66,61.77 L415.92,80.03 L416.18,94.44 L416.44,104.50 L416.70,108.97 L416.96,104.60 L417.22,94.78 L417.48,80.70 L417.74,62.87 L418.00,41.60 L418.26,64.34 L418.52,83.40 L418.78,98.45 L419.04,108.95 L419.30,113.62 L419.58,110.26 L419.87,102.71 L420.15,91.88 L420.43,78.17 L420.72,61.82 L421.00,43.00 L421.26,64.81 L421.52,83.09 L421.78,97.53 L422.04,107.60 L422.30,112.08 L422.55,109.48 L422.80,103.65 L423.05,95.28 L423.30,84.68 L423.55,72.05 L423.80,57.50 L424.06,75.14 L424.32,89.93 L424.58,101.60 L424.84,109.75 L425.10,113.37 L425.37,110.64 L425.63,104.51 L425.90,95.71 L426.17,84.58 L426.43,71.29 L426.70,56.00 L426.96,72.74 L427.22,86.77 L427.48,97.85 L427.74,105.58 L428.00,109.01 L428.27,105.87 L428.53,98.81 L428.80,88.69 L429.07,75.88 L429.33,60.59 L429.60,43.00 L429.86,65.01 L430.12,83.46 L430.38,98.03 L430.64,108.19 L430.90,112.71 L431.18,106.25 L431.45,91.72 L431.73,70.88 L432.00,44.50 L432.26,64.76 L432.52,81.75 L432.78,95.17 L433.04,104.53 L433.30,108.69 L433.57,106.39 L433.83,101.23 L434.10,93.83 L434.37,84.45 L434.63,73.27 L434.90,60.40 L435.16,76.43 L435.42,89.87 L435.68,100.49 L435.94,107.89 L436.20,111.18 L436.47,108.70 L436.73,103.12 L437.00,95.12 L437.27,84.99 L437.53,72.91 L437.80,59.00 L438.06,75.67 L438.32,89.65 L438.58,100.69 L438.84,108.39 L439.10,111.82" fill="none" stroke="#4fe3d4" stroke-width="0.95" stroke-linejoin="round"/>
<rect x="260.7" y="5.5" width="181.40000000000003" height="143.0" fill="none" stroke="#4a4a4a" stroke-width="1.1"/>
<line x1="260.70" y1="148.50" x2="263.70" y2="148.50" stroke="#4a4a4a" stroke-width="1"/>
<line x1="260.70" y1="124.67" x2="263.70" y2="124.67" stroke="#4a4a4a" stroke-width="1"/>
<line x1="260.70" y1="100.84" x2="263.70" y2="100.84" stroke="#4a4a4a" stroke-width="1"/>
<line x1="260.70" y1="77.01" x2="263.70" y2="77.01" stroke="#4a4a4a" stroke-width="1"/>
<line x1="260.70" y1="53.18" x2="263.70" y2="53.18" stroke="#4a4a4a" stroke-width="1"/>
<line x1="260.70" y1="29.35" x2="263.70" y2="29.35" stroke="#4a4a4a" stroke-width="1"/>
<line x1="260.70" y1="5.52" x2="263.70" y2="5.52" stroke="#4a4a4a" stroke-width="1"/>
<line x1="260.70" y1="136.59" x2="262.30" y2="136.59" stroke="#4a4a4a" stroke-width="1"/>
<line x1="260.70" y1="112.76" x2="262.30" y2="112.76" stroke="#4a4a4a" stroke-width="1"/>
<line x1="260.70" y1="88.93" x2="262.30" y2="88.93" stroke="#4a4a4a" stroke-width="1"/>
<line x1="260.70" y1="65.10" x2="262.30" y2="65.10" stroke="#4a4a4a" stroke-width="1"/>
<line x1="260.70" y1="41.27" x2="262.30" y2="41.27" stroke="#4a4a4a" stroke-width="1"/>
<line x1="260.70" y1="17.44" x2="262.30" y2="17.44" stroke="#4a4a4a" stroke-width="1"/>
<line x1="265.20" y1="148.50" x2="265.20" y2="145.50" stroke="#4a4a4a" stroke-width="1"/>
<line x1="288.85" y1="148.50" x2="288.85" y2="145.50" stroke="#4a4a4a" stroke-width="1"/>
<line x1="312.50" y1="148.50" x2="312.50" y2="145.50" stroke="#4a4a4a" stroke-width="1"/>
<line x1="336.15" y1="148.50" x2="336.15" y2="145.50" stroke="#4a4a4a" stroke-width="1"/>
<line x1="359.80" y1="148.50" x2="359.80" y2="145.50" stroke="#4a4a4a" stroke-width="1"/>
<line x1="383.45" y1="148.50" x2="383.45" y2="145.50" stroke="#4a4a4a" stroke-width="1"/>
<line x1="407.10" y1="148.50" x2="407.10" y2="145.50" stroke="#4a4a4a" stroke-width="1"/>
<line x1="430.75" y1="148.50" x2="430.75" y2="145.50" stroke="#4a4a4a" stroke-width="1"/>
<line x1="277.02" y1="148.50" x2="277.02" y2="146.90" stroke="#4a4a4a" stroke-width="1"/>
<line x1="300.68" y1="148.50" x2="300.68" y2="146.90" stroke="#4a4a4a" stroke-width="1"/>
<line x1="324.32" y1="148.50" x2="324.32" y2="146.90" stroke="#4a4a4a" stroke-width="1"/>
<line x1="347.98" y1="148.50" x2="347.98" y2="146.90" stroke="#4a4a4a" stroke-width="1"/>
<line x1="371.62" y1="148.50" x2="371.62" y2="146.90" stroke="#4a4a4a" stroke-width="1"/>
<line x1="395.27" y1="148.50" x2="395.27" y2="146.90" stroke="#4a4a4a" stroke-width="1"/>
<line x1="418.93" y1="148.50" x2="418.93" y2="146.90" stroke="#4a4a4a" stroke-width="1"/>
<text x="258.00" y="151.00" font-size="8.85" font-weight="bold" text-anchor="end" fill="#111" stroke="#111" stroke-width="0.18" textLength="19.77" lengthAdjust="spacingAndGlyphs">2.504</text>
<text x="258.00" y="127.17" font-size="8.85" font-weight="bold" text-anchor="end" fill="#111" stroke="#111" stroke-width="0.18" textLength="19.77" lengthAdjust="spacingAndGlyphs">2.506</text>
<text x="258.00" y="103.34" font-size="8.85" font-weight="bold" text-anchor="end" fill="#111" stroke="#111" stroke-width="0.18" textLength="19.77" lengthAdjust="spacingAndGlyphs">2.508</text>
<text x="258.00" y="79.51" font-size="8.85" font-weight="bold" text-anchor="end" fill="#111" stroke="#111" stroke-width="0.18" textLength="19.77" lengthAdjust="spacingAndGlyphs">2.510</text>
<text x="258.00" y="55.68" font-size="8.85" font-weight="bold" text-anchor="end" fill="#111" stroke="#111" stroke-width="0.18" textLength="19.77" lengthAdjust="spacingAndGlyphs">2.512</text>
<text x="258.00" y="31.85" font-size="8.85" font-weight="bold" text-anchor="end" fill="#111" stroke="#111" stroke-width="0.18" textLength="19.77" lengthAdjust="spacingAndGlyphs">2.514</text>
<text x="258.00" y="8.02" font-size="8.85" font-weight="bold" text-anchor="end" fill="#111" stroke="#111" stroke-width="0.18" textLength="19.77" lengthAdjust="spacingAndGlyphs">2.516</text>
<text x="265.20" y="157.50" font-size="8.74" font-weight="bold" text-anchor="middle" fill="#111" stroke="#111" stroke-width="0.18" textLength="4.34" lengthAdjust="spacingAndGlyphs">0</text>
<text x="288.85" y="157.50" font-size="8.74" font-weight="bold" text-anchor="middle" fill="#111" stroke="#111" stroke-width="0.18" textLength="8.68" lengthAdjust="spacingAndGlyphs">10</text>
<text x="312.50" y="157.50" font-size="8.74" font-weight="bold" text-anchor="middle" fill="#111" stroke="#111" stroke-width="0.18" textLength="8.68" lengthAdjust="spacingAndGlyphs">20</text>
<text x="336.15" y="157.50" font-size="8.74" font-weight="bold" text-anchor="middle" fill="#111" stroke="#111" stroke-width="0.18" textLength="8.68" lengthAdjust="spacingAndGlyphs">30</text>
<text x="359.80" y="157.50" font-size="8.74" font-weight="bold" text-anchor="middle" fill="#111" stroke="#111" stroke-width="0.18" textLength="8.68" lengthAdjust="spacingAndGlyphs">40</text>
<text x="383.45" y="157.50" font-size="8.74" font-weight="bold" text-anchor="middle" fill="#111" stroke="#111" stroke-width="0.18" textLength="8.68" lengthAdjust="spacingAndGlyphs">50</text>
<text x="407.10" y="157.50" font-size="8.74" font-weight="bold" text-anchor="middle" fill="#111" stroke="#111" stroke-width="0.18" textLength="8.68" lengthAdjust="spacingAndGlyphs">60</text>
<text x="430.75" y="157.50" font-size="8.74" font-weight="bold" text-anchor="middle" fill="#111" stroke="#111" stroke-width="0.18" textLength="8.68" lengthAdjust="spacingAndGlyphs">70</text>
<text x="351.50" y="171.60" font-size="10.00" font-weight="bold" text-anchor="middle" fill="#111" stroke="#111" stroke-width="0.0">Time (s)</text>
<text x="235.40" y="77.90" font-size="10.00" font-weight="bold" text-anchor="middle" fill="#111" stroke="#111" stroke-width="0.0" transform="rotate(-90 235.4 77.9)">Resistance (Ω)</text>
<text x="226.20" y="18.50" font-size="13.00" font-weight="bold" text-anchor="start" fill="#111" stroke="#111" stroke-width="0.0">b</text>
<path d="M501.40,64.00 L502.27,64.31 L503.13,64.62 L504.00,64.93 L504.87,65.24 L505.73,65.55 L506.60,65.86 L507.47,66.41 L508.33,67.17 L509.20,67.92 L510.06,68.68 L510.93,69.44 L511.80,70.20 L512.66,70.96 L513.53,71.71 L514.40,72.47 L515.26,73.13 L516.13,73.57 L517.00,74.00 L517.86,74.43 L518.73,74.87 L519.60,75.30 L520.46,75.73 L521.33,75.72 L522.20,74.97 L523.06,74.23 L523.93,73.49 L524.80,72.75 L525.66,72.00 L526.53,71.26 L527.39,70.52 L528.26,69.74 L529.13,68.87 L529.99,68.01 L530.86,67.14 L531.73,66.27 L532.59,65.41 L533.46,64.54 L534.33,63.67 L535.19,62.81 L536.06,61.97 L536.93,61.58 L537.79,61.19 L538.66,60.80 L539.53,60.41 L540.39,60.02 L541.26,59.63 L542.13,59.24 L542.99,58.85 L543.86,58.46 L544.73,58.07 L545.59,57.68 L546.46,57.27 L547.32,56.84 L548.19,56.40 L549.06,55.97 L549.92,55.54 L550.79,55.10 L551.66,54.67 L552.52,54.24 L553.39,53.81 L554.26,53.37 L555.12,52.94 L555.99,52.51 L556.86,52.11 L557.72,51.72 L558.59,51.33 L559.46,50.95 L560.32,50.56 L561.19,50.17 L562.06,49.78 L562.92,49.39 L563.79,49.00 L564.65,48.61 L565.52,48.22 L566.39,47.86 L567.25,47.56 L568.12,47.26 L568.99,46.95 L569.85,46.65 L570.72,46.35 L571.59,46.04 L572.45,45.74 L573.32,45.44 L574.19,45.13 L575.05,44.83 L575.92,44.53 L576.79,44.41 L577.65,44.32 L578.52,44.22 L579.38,44.12 L580.25,44.03 L581.12,43.93 L581.98,43.84 L582.85,43.74 L583.72,43.64 L584.58,43.55 L585.45,43.41 L586.32,43.24 L587.18,43.06 L588.05,42.89 L588.92,42.72 L589.78,42.54 L590.65,42.37 L591.52,42.20 L592.38,42.02 L593.25,41.85 L594.12,41.68 L594.98,41.50 L595.85,41.50 L596.72,41.50 L597.58,41.50 L598.45,41.50 L599.31,41.50 L600.18,41.50 L601.05,41.50 L601.91,41.50 L602.78,41.50 L603.65,41.50 L604.51,41.50 L605.38,41.62 L606.25,41.89 L607.11,42.16 L607.98,42.43 L608.85,42.70 L609.71,42.97 L610.58,43.24 L611.45,43.51 L612.31,43.79 L613.18,44.13 L614.05,44.75 L614.91,45.37 L615.78,45.98 L616.64,46.60 L617.51,47.22 L618.38,47.84 L619.24,48.46 L620.11,48.82 L620.98,47.37 L621.84,45.93 L622.71,44.48 L623.58,43.04 L624.44,41.60 L625.31,40.15 L626.18,38.87 L627.04,38.22 L627.91,37.57 L628.78,36.92 L629.64,36.27 L630.51,35.62 L631.38,34.97 L632.24,34.52 L633.11,34.57 L633.97,34.62 L634.84,34.68 L635.71,34.73 L636.57,34.79 L637.44,34.84 L638.31,34.89 L639.17,34.95 L640.04,35.03 L640.91,35.68 L641.77,36.33 L642.64,36.98 L643.51,37.63 L644.37,38.28 L645.24,38.93 L646.11,39.58 L646.97,40.23 L647.84,40.88 L648.71,41.35 L649.57,41.79 L650.44,42.22 L651.30,42.65 L652.17,43.09 L653.04,43.52 L653.90,43.95 L654.77,44.39 L655.64,44.23 L656.50,43.86 L657.37,43.48 L658.24,43.11 L659.10,42.74 L659.97,42.37 L660.84,42.00 L661.70,41.63 L662.57,41.11 L663.44,40.51 L664.30,39.92 L665.17,39.32 L666.04,38.73 L666.90,38.13 L667.77,37.53 L668.63,36.94 L669.50,36.34 L670.37,35.77 L671.23,35.21 L672.10,34.66 L672.97,34.11 L673.83,33.55 L674.70,33.00 L674.70,108.00 L673.83,108.22 L672.97,108.45 L672.10,108.67 L671.23,108.89 L670.37,109.12 L669.50,109.34 L668.63,109.56 L667.77,109.79 L666.90,110.01 L666.04,110.23 L665.17,110.46 L664.30,110.52 L663.44,110.55 L662.57,110.58 L661.70,110.61 L660.84,110.64 L659.97,110.67 L659.10,110.70 L658.24,110.73 L657.37,110.75 L656.50,110.78 L655.64,110.81 L654.77,110.84 L653.90,110.87 L653.04,110.90 L652.17,110.93 L651.30,110.96 L650.44,110.99 L649.57,110.97 L648.71,110.91 L647.84,110.86 L646.97,110.80 L646.11,110.74 L645.24,110.68 L644.37,110.62 L643.51,110.57 L642.64,110.51 L641.77,110.45 L640.91,110.39 L640.04,110.34 L639.17,110.28 L638.31,110.22 L637.44,110.16 L636.57,110.10 L635.71,110.05 L634.84,110.04 L633.97,110.27 L633.11,110.50 L632.24,110.74 L631.38,110.97 L630.51,111.20 L629.64,111.43 L628.78,111.66 L627.91,111.89 L627.04,112.12 L626.18,112.35 L625.31,112.58 L624.44,112.82 L623.58,113.05 L622.71,113.28 L621.84,113.51 L620.98,113.74 L620.11,113.97 L619.24,114.08 L618.38,114.16 L617.51,114.25 L616.64,114.34 L615.78,114.42 L614.91,114.51 L614.05,114.60 L613.18,114.68 L612.31,114.77 L611.45,114.86 L610.58,114.94 L609.71,115.03 L608.85,115.12 L607.98,115.20 L607.11,115.29 L606.25,115.38 L605.38,115.46 L604.51,115.55 L603.65,115.64 L602.78,115.72 L601.91,115.81 L601.05,115.90 L600.18,115.98 L599.31,116.07 L598.45,116.16 L597.58,116.24 L596.72,116.33 L595.85,116.42 L594.98,116.50 L594.12,116.59 L593.25,116.68 L592.38,116.76 L591.52,116.85 L590.65,116.94 L589.78,117.07 L588.92,117.36 L588.05,117.65 L587.18,117.94 L586.32,118.23 L585.45,118.52 L584.58,118.81 L583.72,119.09 L582.85,119.38 L581.98,119.67 L581.12,119.96 L580.25,120.25 L579.38,120.54 L578.52,120.83 L577.65,121.12 L576.79,121.40 L575.92,121.69 L575.05,121.98 L574.19,122.27 L573.32,122.56 L572.45,122.85 L571.59,123.14 L570.72,123.43 L569.85,123.72 L568.99,124.00 L568.12,124.29 L567.25,124.58 L566.39,124.87 L565.52,125.16 L564.65,125.45 L563.79,125.74 L562.92,126.03 L562.06,126.31 L561.19,126.60 L560.32,126.89 L559.46,127.11 L558.59,127.28 L557.72,127.46 L556.86,127.63 L555.99,127.80 L555.12,127.98 L554.26,128.15 L553.39,128.32 L552.52,128.50 L551.66,128.67 L550.79,128.84 L549.92,129.02 L549.06,129.19 L548.19,129.36 L547.32,129.54 L546.46,129.71 L545.59,129.88 L544.73,130.01 L543.86,130.04 L542.99,130.07 L542.13,130.10 L541.26,130.12 L540.39,130.15 L539.53,130.18 L538.66,130.21 L537.79,130.24 L536.93,130.27 L536.06,130.30 L535.19,130.33 L534.33,130.36 L533.46,130.38 L532.59,130.41 L531.73,130.44 L530.86,130.47 L529.99,130.50 L529.13,130.33 L528.26,130.15 L527.39,129.98 L526.53,129.81 L525.66,129.63 L524.80,129.46 L523.93,129.29 L523.06,129.11 L522.20,128.94 L521.33,128.77 L520.46,128.59 L519.60,128.32 L518.73,127.93 L517.86,127.54 L517.00,127.15 L516.13,126.76 L515.26,126.37 L514.40,125.98 L513.53,125.59 L512.66,125.20 L511.80,124.81 L510.93,124.42 L510.06,124.03 L509.20,123.52 L508.33,123.00 L507.47,122.48 L506.60,121.96 L505.73,121.44 L504.87,120.89 L504.00,120.17 L503.13,119.44 L502.27,118.72 L501.40,118.00 Z" fill="#ef9151"/>
<path d="M502.15,53.5h0.75V62.1h-0.75ZM502.15,118.4h0.75V126.5h-0.75ZM503.65,125.2h0.75V126.4h-0.75ZM504.40,61.0h0.75V62.3h-0.75ZM505.15,50.9h0.75V57.9h-0.75ZM505.15,124.0h0.75V131.0h-0.75ZM505.90,59.0h0.75V70.1h-0.75ZM505.90,124.2h0.75V131.5h-0.75ZM506.65,123.6h0.75V128.2h-0.75ZM507.40,126.2h0.75V129.1h-0.75ZM508.15,125.7h0.75V132.4h-0.75ZM508.90,53.7h0.75V66.3h-0.75ZM508.90,124.7h0.75V132.5h-0.75ZM509.65,125.8h0.75V128.4h-0.75ZM510.40,64.6h0.75V67.1h-0.75ZM510.40,122.9h0.75V129.7h-0.75ZM511.15,54.0h0.75V66.6h-0.75ZM511.90,56.2h0.75V67.5h-0.75ZM512.65,57.7h0.75V67.9h-0.75ZM512.65,125.8h0.75V129.8h-0.75ZM513.40,67.3h0.75V71.2h-0.75ZM513.40,126.3h0.75V132.7h-0.75ZM514.15,64.0h0.75V71.9h-0.75ZM514.15,129.1h0.75V137.9h-0.75ZM515.65,60.5h0.75V72.1h-0.75ZM515.65,123.3h0.75V129.7h-0.75ZM516.40,73.3h0.75V77.2h-0.75ZM517.15,65.6h0.75V68.7h-0.75ZM517.15,130.9h0.75V138.4h-0.75ZM517.90,131.8h0.75V135.4h-0.75ZM518.65,67.2h0.75V73.5h-0.75ZM518.65,130.2h0.75V131.7h-0.75ZM520.15,68.1h0.75V70.7h-0.75ZM520.90,69.0h0.75V70.3h-0.75ZM522.40,60.4h0.75V70.9h-0.75ZM523.90,60.1h0.75V68.1h-0.75ZM525.40,62.7h0.75V64.7h-0.75ZM526.90,62.8h0.75V67.4h-0.75ZM526.90,132.0h0.75V139.1h-0.75ZM527.65,63.9h0.75V70.2h-0.75ZM528.40,130.2h0.75V139.4h-0.75ZM529.90,58.6h0.75V62.9h-0.75ZM529.90,137.0h0.75V139.5h-0.75ZM530.65,56.0h0.75V64.5h-0.75ZM531.40,133.3h0.75V134.5h-0.75ZM532.15,56.7h0.75V61.4h-0.75ZM532.15,136.1h0.75V144.2h-0.75ZM532.90,50.0h0.75V61.0h-0.75ZM532.90,132.7h0.75V135.9h-0.75ZM534.40,52.7h0.75V59.4h-0.75ZM534.40,134.4h0.75V137.0h-0.75ZM535.90,135.6h0.75V143.7h-0.75ZM537.40,130.5h0.75V138.7h-0.75ZM539.65,43.0h0.75V54.2h-0.75ZM539.65,127.7h0.75V131.9h-0.75ZM540.40,134.0h0.75V135.2h-0.75ZM541.15,51.7h0.75V56.7h-0.75ZM541.15,134.1h0.75V142.2h-0.75ZM541.90,133.0h0.75V140.2h-0.75ZM542.65,53.0h0.75V56.6h-0.75ZM543.40,41.9h0.75V53.0h-0.75ZM543.40,134.9h0.75V140.9h-0.75ZM544.90,133.2h0.75V138.8h-0.75ZM545.65,132.9h0.75V141.2h-0.75ZM547.90,131.6h0.75V138.2h-0.75ZM548.65,132.3h0.75V135.3h-0.75ZM549.40,47.6h0.75V49.9h-0.75ZM550.15,44.6h0.75V51.9h-0.75ZM550.15,129.8h0.75V134.7h-0.75ZM552.40,48.0h0.75V52.8h-0.75ZM553.15,47.7h0.75V51.6h-0.75ZM553.15,131.7h0.75V139.3h-0.75ZM553.90,41.0h0.75V51.5h-0.75ZM554.65,130.4h0.75V139.6h-0.75ZM555.40,38.3h0.75V45.3h-0.75ZM555.40,130.6h0.75V137.7h-0.75ZM556.15,129.8h0.75V135.5h-0.75ZM556.90,128.6h0.75V138.5h-0.75ZM557.65,48.1h0.75V54.6h-0.75ZM557.65,127.6h0.75V135.5h-0.75ZM559.15,39.0h0.75V48.9h-0.75ZM559.15,127.2h0.75V131.8h-0.75ZM561.40,123.5h0.75V131.5h-0.75ZM562.15,131.9h0.75V139.8h-0.75ZM562.90,40.6h0.75V45.7h-0.75ZM562.90,129.5h0.75V134.7h-0.75ZM563.65,131.0h0.75V140.5h-0.75ZM565.90,42.8h0.75V44.4h-0.75ZM565.90,125.0h0.75V127.8h-0.75ZM568.15,47.0h0.75V49.9h-0.75ZM568.15,125.2h0.75V130.4h-0.75ZM569.65,32.8h0.75V41.7h-0.75ZM570.40,38.9h0.75V42.8h-0.75ZM571.90,123.1h0.75V128.4h-0.75ZM573.40,32.3h0.75V40.8h-0.75ZM573.40,125.8h0.75V130.9h-0.75ZM574.15,33.9h0.75V40.2h-0.75ZM574.15,125.0h0.75V132.0h-0.75ZM577.90,123.3h0.75V128.1h-0.75ZM580.15,122.2h0.75V128.8h-0.75ZM581.65,28.8h0.75V38.8h-0.75ZM581.65,119.5h0.75V128.8h-0.75ZM582.40,119.1h0.75V120.9h-0.75ZM583.15,29.0h0.75V39.3h-0.75ZM583.90,32.5h0.75V42.2h-0.75ZM583.90,120.5h0.75V127.7h-0.75ZM585.40,123.9h0.75V128.9h-0.75ZM586.15,26.4h0.75V38.6h-0.75ZM586.15,118.5h0.75V127.5h-0.75ZM586.90,32.1h0.75V37.9h-0.75ZM587.65,29.5h0.75V40.5h-0.75ZM589.90,30.2h0.75V40.0h-0.75ZM590.65,32.9h0.75V41.7h-0.75ZM592.15,119.2h0.75V126.5h-0.75ZM593.65,120.1h0.75V127.5h-0.75ZM594.40,26.8h0.75V36.7h-0.75ZM594.40,118.4h0.75V128.3h-0.75ZM595.15,34.3h0.75V38.8h-0.75ZM595.15,116.5h0.75V126.2h-0.75ZM595.90,30.7h0.75V41.0h-0.75ZM595.90,116.5h0.75V119.1h-0.75ZM596.65,32.6h0.75V34.0h-0.75ZM596.65,121.6h0.75V123.6h-0.75ZM597.40,30.3h0.75V38.4h-0.75ZM597.40,114.8h0.75V117.8h-0.75ZM598.15,115.0h0.75V120.9h-0.75ZM599.65,118.3h0.75V127.9h-0.75ZM600.40,119.0h0.75V128.9h-0.75ZM602.65,29.8h0.75V34.0h-0.75ZM603.40,32.0h0.75V43.2h-0.75ZM603.40,118.1h0.75V126.5h-0.75ZM604.90,119.7h0.75V124.4h-0.75ZM605.65,31.6h0.75V39.1h-0.75ZM606.40,35.6h0.75V37.5h-0.75ZM607.15,33.7h0.75V36.0h-0.75ZM607.90,120.9h0.75V125.3h-0.75ZM608.65,118.7h0.75V128.6h-0.75ZM609.40,32.1h0.75V37.6h-0.75ZM609.40,118.9h0.75V124.8h-0.75ZM610.15,115.2h0.75V118.0h-0.75ZM610.90,118.5h0.75V122.5h-0.75ZM611.65,31.7h0.75V40.9h-0.75ZM611.65,116.5h0.75V123.8h-0.75ZM612.40,40.2h0.75V42.3h-0.75ZM612.40,120.1h0.75V123.2h-0.75ZM613.90,36.1h0.75V41.7h-0.75ZM613.90,121.1h0.75V125.1h-0.75ZM615.40,39.6h0.75V44.7h-0.75ZM615.40,116.7h0.75V123.6h-0.75ZM616.15,27.8h0.75V38.7h-0.75ZM616.90,40.9h0.75V46.2h-0.75ZM617.65,37.6h0.75V47.2h-0.75ZM619.15,36.5h0.75V41.8h-0.75ZM619.90,112.4h0.75V118.5h-0.75ZM620.65,40.9h0.75V51.8h-0.75ZM621.40,111.0h0.75V117.1h-0.75ZM622.90,30.3h0.75V39.4h-0.75ZM623.65,36.2h0.75V39.6h-0.75ZM623.65,116.0h0.75V121.2h-0.75ZM624.40,116.0h0.75V119.4h-0.75ZM626.65,20.0h0.75V31.0h-0.75ZM626.65,114.0h0.75V122.7h-0.75ZM627.40,23.1h0.75V30.5h-0.75ZM628.90,25.2h0.75V33.4h-0.75ZM628.90,116.3h0.75V117.9h-0.75ZM629.65,114.0h0.75V121.2h-0.75ZM631.15,22.7h0.75V28.8h-0.75ZM631.90,24.9h0.75V27.1h-0.75ZM632.65,27.2h0.75V31.1h-0.75ZM632.65,113.2h0.75V116.8h-0.75ZM633.40,115.7h0.75V119.9h-0.75ZM634.90,112.2h0.75V121.5h-0.75ZM636.40,29.2h0.75V32.5h-0.75ZM636.40,109.2h0.75V118.1h-0.75ZM637.15,114.8h0.75V123.6h-0.75ZM637.90,22.8h0.75V29.2h-0.75ZM637.90,116.7h0.75V118.4h-0.75ZM639.40,17.0h0.75V28.6h-0.75ZM639.40,110.1h0.75V116.5h-0.75ZM640.15,31.0h0.75V35.3h-0.75ZM640.90,111.8h0.75V113.2h-0.75ZM641.65,108.4h0.75V112.0h-0.75ZM642.40,109.9h0.75V119.0h-0.75ZM643.15,24.2h0.75V29.9h-0.75ZM643.15,112.0h0.75V121.4h-0.75ZM644.65,113.3h0.75V119.0h-0.75ZM645.40,27.6h0.75V35.9h-0.75ZM646.15,33.4h0.75V37.2h-0.75ZM647.65,36.7h0.75V37.9h-0.75ZM647.65,112.0h0.75V117.5h-0.75ZM649.15,35.9h0.75V38.6h-0.75ZM649.15,115.2h0.75V119.0h-0.75ZM649.90,31.8h0.75V36.0h-0.75ZM651.40,112.5h0.75V115.4h-0.75ZM652.15,22.7h0.75V35.6h-0.75ZM652.90,30.3h0.75V42.0h-0.75ZM652.90,113.0h0.75V115.2h-0.75ZM654.40,33.3h0.75V41.0h-0.75ZM655.15,26.5h0.75V39.3h-0.75ZM655.15,111.6h0.75V118.1h-0.75ZM656.65,36.9h0.75V42.7h-0.75ZM657.40,37.3h0.75V40.5h-0.75ZM657.40,111.0h0.75V116.9h-0.75ZM658.90,114.5h0.75V116.1h-0.75ZM659.65,35.7h0.75V38.9h-0.75ZM660.40,115.1h0.75V117.5h-0.75ZM661.15,26.9h0.75V38.8h-0.75ZM661.15,117.1h0.75V118.3h-0.75ZM661.90,110.5h0.75V118.5h-0.75ZM662.65,111.9h0.75V114.3h-0.75ZM663.40,110.6h0.75V112.8h-0.75ZM664.15,33.1h0.75V35.9h-0.75ZM664.90,22.3h0.75V33.7h-0.75ZM664.90,111.6h0.75V114.7h-0.75ZM666.40,28.3h0.75V37.3h-0.75ZM667.15,116.4h0.75V119.6h-0.75ZM667.90,29.7h0.75V31.4h-0.75ZM667.90,111.2h0.75V115.6h-0.75ZM668.65,27.3h0.75V33.1h-0.75ZM669.40,27.9h0.75V33.0h-0.75ZM670.15,21.9h0.75V31.3h-0.75ZM670.15,114.7h0.75V115.9h-0.75ZM670.90,110.5h0.75V116.0h-0.75ZM673.90,109.3h0.75V117.8h-0.75ZM674.65,27.6h0.05V30.2h-0.05ZM674.65,110.9h0.05V116.5h-0.05Z" fill="#f5c7a0"/>
<path d="M501.40,45.0h0.75V57.1h-0.75ZM501.40,119.6h0.75V124.7h-0.75ZM502.90,56.0h0.75V65.3h-0.75ZM502.90,119.3h0.75V120.7h-0.75ZM503.65,56.2h0.75V59.1h-0.75ZM504.40,121.3h0.75V126.4h-0.75ZM506.65,51.9h0.75V62.1h-0.75ZM507.40,67.1h0.75V68.1h-0.75ZM508.15,64.4h0.75V66.3h-0.75ZM509.65,55.0h0.75V65.6h-0.75ZM511.15,125.1h0.75V133.3h-0.75ZM511.90,124.9h0.75V131.7h-0.75ZM514.90,69.8h0.75V73.7h-0.75ZM514.90,131.2h0.75V133.9h-0.75ZM516.40,127.8h0.75V135.2h-0.75ZM517.90,58.6h0.75V66.9h-0.75ZM519.40,65.0h0.75V70.4h-0.75ZM519.40,131.3h0.75V140.3h-0.75ZM520.15,134.1h0.75V135.4h-0.75ZM520.90,135.2h0.75V141.9h-0.75ZM521.65,66.0h0.75V67.9h-0.75ZM521.65,124.3h0.75V130.2h-0.75ZM522.40,135.4h0.75V144.6h-0.75ZM523.15,69.3h0.75V75.3h-0.75ZM523.15,134.6h0.75V142.7h-0.75ZM523.90,133.5h0.75V140.0h-0.75ZM524.65,65.4h0.75V75.1h-0.75ZM524.65,132.1h0.75V136.6h-0.75ZM525.40,130.3h0.75V138.1h-0.75ZM526.15,56.7h0.75V66.1h-0.75ZM526.15,132.0h0.75V137.5h-0.75ZM527.65,134.6h0.75V143.6h-0.75ZM528.40,56.4h0.75V67.0h-0.75ZM529.15,60.6h0.75V63.2h-0.75ZM529.15,133.9h0.75V139.4h-0.75ZM530.65,130.5h0.75V135.9h-0.75ZM531.40,64.3h0.75V66.2h-0.75ZM533.65,50.2h0.75V58.8h-0.75ZM533.65,134.9h0.75V141.7h-0.75ZM535.15,54.7h0.75V59.0h-0.75ZM535.15,134.4h0.75V138.5h-0.75ZM535.90,49.3h0.75V55.1h-0.75ZM536.65,59.7h0.75V62.3h-0.75ZM536.65,134.4h0.75V139.5h-0.75ZM537.40,43.7h0.75V55.3h-0.75ZM538.15,46.8h0.75V56.4h-0.75ZM538.15,134.1h0.75V142.5h-0.75ZM538.90,45.8h0.75V58.6h-0.75ZM538.90,127.5h0.75V137.3h-0.75ZM540.40,45.7h0.75V52.5h-0.75ZM541.90,40.8h0.75V51.8h-0.75ZM542.65,132.9h0.75V138.7h-0.75ZM544.15,54.7h0.75V58.2h-0.75ZM544.15,136.5h0.75V145.2h-0.75ZM544.90,45.4h0.75V52.8h-0.75ZM545.65,51.7h0.75V57.5h-0.75ZM546.40,46.0h0.75V53.4h-0.75ZM546.40,133.1h0.75V137.8h-0.75ZM547.15,50.5h0.75V53.0h-0.75ZM547.15,129.3h0.75V134.2h-0.75ZM547.90,47.3h0.75V50.6h-0.75ZM548.65,49.5h0.75V52.8h-0.75ZM549.40,128.9h0.75V136.5h-0.75ZM550.90,46.5h0.75V49.9h-0.75ZM550.90,131.6h0.75V138.3h-0.75ZM551.65,42.2h0.75V53.5h-0.75ZM551.65,133.9h0.75V137.0h-0.75ZM552.40,132.3h0.75V141.6h-0.75ZM553.90,133.0h0.75V135.1h-0.75ZM554.65,42.4h0.75V51.5h-0.75ZM556.15,41.9h0.75V49.5h-0.75ZM556.90,38.3h0.75V49.4h-0.75ZM558.40,36.8h0.75V45.0h-0.75ZM558.40,130.1h0.75V131.2h-0.75ZM559.90,35.0h0.75V46.8h-0.75ZM559.90,129.6h0.75V137.8h-0.75ZM560.65,36.8h0.75V44.9h-0.75ZM560.65,131.1h0.75V136.7h-0.75ZM561.40,36.3h0.75V46.3h-0.75ZM562.15,41.5h0.75V50.8h-0.75ZM563.65,39.3h0.75V43.0h-0.75ZM564.40,35.9h0.75V43.3h-0.75ZM564.40,130.8h0.75V135.3h-0.75ZM565.15,30.7h0.75V43.5h-0.75ZM565.15,131.8h0.75V133.0h-0.75ZM566.65,36.6h0.75V44.2h-0.75ZM566.65,121.9h0.75V127.4h-0.75ZM567.40,37.3h0.75V48.0h-0.75ZM567.40,127.1h0.75V128.8h-0.75ZM568.90,30.4h0.75V42.7h-0.75ZM568.90,127.1h0.75V131.9h-0.75ZM569.65,124.7h0.75V130.8h-0.75ZM570.40,125.6h0.75V127.0h-0.75ZM571.15,28.7h0.75V38.7h-0.75ZM571.15,122.4h0.75V123.8h-0.75ZM571.90,41.7h0.75V47.9h-0.75ZM572.65,28.5h0.75V38.2h-0.75ZM572.65,126.1h0.75V131.4h-0.75ZM574.90,28.5h0.75V38.8h-0.75ZM574.90,125.8h0.75V131.6h-0.75ZM575.65,38.6h0.75V40.9h-0.75ZM575.65,126.1h0.75V135.2h-0.75ZM576.40,30.3h0.75V39.5h-0.75ZM576.40,122.5h0.75V128.6h-0.75ZM577.15,36.9h0.75V40.9h-0.75ZM577.15,125.4h0.75V135.2h-0.75ZM577.90,37.5h0.75V41.8h-0.75ZM578.65,37.6h0.75V39.7h-0.75ZM578.65,123.5h0.75V130.6h-0.75ZM579.40,34.9h0.75V38.4h-0.75ZM579.40,121.0h0.75V125.1h-0.75ZM580.15,31.1h0.75V41.8h-0.75ZM580.90,27.8h0.75V38.5h-0.75ZM580.90,121.6h0.75V126.0h-0.75ZM582.40,43.0h0.75V45.0h-0.75ZM583.15,123.7h0.75V125.4h-0.75ZM584.65,31.8h0.75V37.2h-0.75ZM584.65,118.1h0.75V120.2h-0.75ZM585.40,33.7h0.75V45.7h-0.75ZM586.90,118.8h0.75V123.2h-0.75ZM587.65,123.3h0.75V129.3h-0.75ZM588.40,39.7h0.75V41.0h-0.75ZM588.40,121.4h0.75V127.1h-0.75ZM589.15,32.5h0.75V43.1h-0.75ZM589.15,120.5h0.75V122.1h-0.75ZM589.90,119.0h0.75V128.1h-0.75ZM590.65,116.2h0.75V119.4h-0.75ZM591.40,29.0h0.75V34.7h-0.75ZM591.40,119.9h0.75V124.0h-0.75ZM592.15,25.4h0.75V35.1h-0.75ZM592.90,29.1h0.75V40.3h-0.75ZM592.90,122.5h0.75V130.8h-0.75ZM593.65,34.8h0.75V42.1h-0.75ZM598.15,35.5h0.75V40.2h-0.75ZM598.90,25.6h0.75V37.6h-0.75ZM598.90,113.4h0.75V117.5h-0.75ZM599.65,34.4h0.75V36.0h-0.75ZM600.40,30.4h0.75V34.7h-0.75ZM601.15,35.7h0.75V41.2h-0.75ZM601.15,118.2h0.75V126.4h-0.75ZM601.90,34.0h0.75V38.9h-0.75ZM601.90,117.1h0.75V120.4h-0.75ZM602.65,122.2h0.75V128.0h-0.75ZM604.15,31.0h0.75V37.7h-0.75ZM604.15,119.2h0.75V124.4h-0.75ZM604.90,29.0h0.75V39.5h-0.75ZM605.65,119.5h0.75V125.2h-0.75ZM606.40,115.9h0.75V119.6h-0.75ZM607.15,114.8h0.75V119.4h-0.75ZM607.90,39.7h0.75V40.9h-0.75ZM608.65,35.2h0.75V36.3h-0.75ZM610.15,32.3h0.75V36.4h-0.75ZM610.90,33.5h0.75V43.2h-0.75ZM613.15,27.7h0.75V39.7h-0.75ZM613.15,116.6h0.75V121.5h-0.75ZM614.65,25.4h0.75V38.2h-0.75ZM614.65,114.8h0.75V122.9h-0.75ZM616.15,117.1h0.75V123.6h-0.75ZM616.90,118.6h0.75V124.1h-0.75ZM617.65,117.0h0.75V125.5h-0.75ZM618.40,41.1h0.75V43.1h-0.75ZM618.40,117.8h0.75V121.1h-0.75ZM619.15,111.5h0.75V116.7h-0.75ZM619.90,41.9h0.75V49.4h-0.75ZM620.65,120.3h0.75V126.7h-0.75ZM621.40,37.8h0.75V41.7h-0.75ZM622.15,39.5h0.75V40.9h-0.75ZM622.15,116.2h0.75V118.8h-0.75ZM622.90,117.5h0.75V125.2h-0.75ZM624.40,29.4h0.75V36.6h-0.75ZM625.15,27.4h0.75V36.4h-0.75ZM625.15,115.7h0.75V118.0h-0.75ZM625.90,24.3h0.75V32.8h-0.75ZM625.90,114.4h0.75V121.6h-0.75ZM627.40,116.7h0.75V122.4h-0.75ZM628.15,23.8h0.75V33.5h-0.75ZM628.15,113.6h0.75V122.7h-0.75ZM629.65,28.3h0.75V29.9h-0.75ZM630.40,27.4h0.75V31.2h-0.75ZM630.40,111.4h0.75V113.0h-0.75ZM631.15,117.5h0.75V125.8h-0.75ZM631.90,115.5h0.75V123.7h-0.75ZM633.40,29.4h0.75V35.2h-0.75ZM634.15,32.3h0.75V37.0h-0.75ZM634.15,111.7h0.75V117.2h-0.75ZM634.90,24.8h0.75V29.3h-0.75ZM635.65,25.9h0.75V32.6h-0.75ZM635.65,114.5h0.75V117.1h-0.75ZM637.15,19.2h0.75V31.0h-0.75ZM638.65,27.8h0.75V31.0h-0.75ZM638.65,114.3h0.75V117.5h-0.75ZM640.15,114.5h0.75V121.2h-0.75ZM640.90,21.6h0.75V29.0h-0.75ZM641.65,30.7h0.75V32.7h-0.75ZM642.40,29.4h0.75V32.7h-0.75ZM643.90,25.3h0.75V30.6h-0.75ZM643.90,114.3h0.75V121.3h-0.75ZM644.65,21.8h0.75V31.0h-0.75ZM645.40,114.7h0.75V117.8h-0.75ZM646.15,117.2h0.75V122.6h-0.75ZM646.90,27.8h0.75V35.9h-0.75ZM646.90,113.3h0.75V120.7h-0.75ZM648.40,35.4h0.75V37.3h-0.75ZM648.40,108.9h0.75V118.1h-0.75ZM649.90,115.6h0.75V121.9h-0.75ZM650.65,36.9h0.75V39.8h-0.75ZM650.65,111.8h0.75V119.0h-0.75ZM651.40,36.5h0.75V41.9h-0.75ZM652.15,113.2h0.75V115.5h-0.75ZM653.65,37.9h0.75V39.3h-0.75ZM653.65,112.9h0.75V122.9h-0.75ZM654.40,111.5h0.75V114.6h-0.75ZM655.90,34.9h0.75V40.0h-0.75ZM655.90,114.0h0.75V121.3h-0.75ZM656.65,115.1h0.75V123.7h-0.75ZM658.15,35.6h0.75V40.3h-0.75ZM658.15,110.5h0.75V115.5h-0.75ZM658.90,35.0h0.75V40.6h-0.75ZM659.65,112.7h0.75V116.1h-0.75ZM660.40,32.9h0.75V38.2h-0.75ZM661.90,38.2h0.75V43.1h-0.75ZM662.65,34.4h0.75V35.9h-0.75ZM663.40,28.4h0.75V35.9h-0.75ZM664.15,116.7h0.75V119.5h-0.75ZM665.65,34.4h0.75V35.7h-0.75ZM665.65,112.1h0.75V118.8h-0.75ZM666.40,113.0h0.75V122.2h-0.75ZM667.15,19.5h0.75V31.0h-0.75ZM668.65,110.6h0.75V115.9h-0.75ZM669.40,110.8h0.75V115.6h-0.75ZM670.90,32.9h0.75V34.6h-0.75ZM671.65,29.2h0.75V30.5h-0.75ZM671.65,109.6h0.75V113.7h-0.75ZM672.40,27.4h0.75V30.7h-0.75ZM672.40,107.4h0.75V112.6h-0.75ZM673.15,15.8h0.75V28.1h-0.75ZM673.15,108.4h0.75V116.4h-0.75ZM673.90,23.2h0.75V27.6h-0.75Z" fill="#f8dcc4"/>
<path d="M501.40,57.1h0.75V119.6h-0.75ZM502.15,62.1h0.75V118.4h-0.75ZM502.90,65.3h0.75V119.3h-0.75ZM503.65,59.1h0.75V125.2h-0.75ZM504.40,62.3h0.75V121.3h-0.75ZM505.15,57.9h0.75V124.0h-0.75ZM505.90,70.1h0.75V124.2h-0.75ZM506.65,62.1h0.75V123.6h-0.75ZM507.40,68.1h0.75V126.2h-0.75ZM508.15,66.3h0.75V125.7h-0.75ZM508.90,66.3h0.75V124.7h-0.75ZM509.65,65.6h0.75V125.8h-0.75ZM510.40,67.1h0.75V122.9h-0.75ZM511.15,66.6h0.75V125.1h-0.75ZM511.90,67.5h0.75V124.9h-0.75ZM512.65,67.9h0.75V125.8h-0.75ZM513.40,71.2h0.75V126.3h-0.75ZM514.15,71.9h0.75V129.1h-0.75ZM514.90,73.7h0.75V131.2h-0.75ZM515.65,72.1h0.75V123.3h-0.75ZM516.40,77.2h0.75V127.8h-0.75ZM517.15,68.7h0.75V130.9h-0.75ZM517.90,66.9h0.75V131.8h-0.75ZM518.65,73.5h0.75V130.2h-0.75ZM519.40,70.4h0.75V131.3h-0.75ZM520.15,70.7h0.75V134.1h-0.75ZM520.90,70.3h0.75V135.2h-0.75ZM521.65,67.9h0.75V124.3h-0.75ZM522.40,70.9h0.75V135.4h-0.75ZM523.15,75.3h0.75V134.6h-0.75ZM523.90,68.1h0.75V133.5h-0.75ZM524.65,75.1h0.75V132.1h-0.75ZM525.40,64.7h0.75V130.3h-0.75ZM526.15,66.1h0.75V132.0h-0.75ZM526.90,67.4h0.75V132.0h-0.75ZM527.65,70.2h0.75V134.6h-0.75ZM528.40,67.0h0.75V130.2h-0.75ZM529.15,63.2h0.75V133.9h-0.75ZM529.90,62.9h0.75V137.0h-0.75ZM530.65,64.5h0.75V130.5h-0.75ZM531.40,66.2h0.75V133.3h-0.75ZM532.15,61.4h0.75V136.1h-0.75ZM532.90,61.0h0.75V132.7h-0.75ZM533.65,58.8h0.75V134.9h-0.75ZM534.40,59.4h0.75V134.4h-0.75ZM535.15,59.0h0.75V134.4h-0.75ZM535.90,55.1h0.75V135.6h-0.75ZM536.65,62.3h0.75V134.4h-0.75ZM537.40,55.3h0.75V130.5h-0.75ZM538.15,56.4h0.75V134.1h-0.75ZM538.90,58.6h0.75V127.5h-0.75ZM539.65,54.2h0.75V127.7h-0.75ZM540.40,52.5h0.75V134.0h-0.75ZM541.15,56.7h0.75V134.1h-0.75ZM541.90,51.8h0.75V133.0h-0.75ZM542.65,56.6h0.75V132.9h-0.75ZM543.40,53.0h0.75V134.9h-0.75ZM544.15,58.2h0.75V136.5h-0.75ZM544.90,52.8h0.75V133.2h-0.75ZM545.65,57.5h0.75V132.9h-0.75ZM546.40,53.4h0.75V133.1h-0.75ZM547.15,53.0h0.75V129.3h-0.75ZM547.90,50.6h0.75V131.6h-0.75ZM548.65,52.8h0.75V132.3h-0.75ZM549.40,49.9h0.75V128.9h-0.75ZM550.15,51.9h0.75V129.8h-0.75ZM550.90,49.9h0.75V131.6h-0.75ZM551.65,53.5h0.75V133.9h-0.75ZM552.40,52.8h0.75V132.3h-0.75ZM553.15,51.6h0.75V131.7h-0.75ZM553.90,51.5h0.75V133.0h-0.75ZM554.65,51.5h0.75V130.4h-0.75ZM555.40,45.3h0.75V130.6h-0.75ZM556.15,49.5h0.75V129.8h-0.75ZM556.90,49.4h0.75V128.6h-0.75ZM557.65,54.6h0.75V127.6h-0.75ZM558.40,45.0h0.75V130.1h-0.75ZM559.15,48.9h0.75V127.2h-0.75ZM559.90,46.8h0.75V129.6h-0.75ZM560.65,44.9h0.75V131.1h-0.75ZM561.40,46.3h0.75V123.5h-0.75ZM562.15,50.8h0.75V131.9h-0.75ZM562.90,45.7h0.75V129.5h-0.75ZM563.65,43.0h0.75V131.0h-0.75ZM564.40,43.3h0.75V130.8h-0.75ZM565.15,43.5h0.75V131.8h-0.75ZM565.90,44.4h0.75V125.0h-0.75ZM566.65,44.2h0.75V121.9h-0.75ZM567.40,48.0h0.75V127.1h-0.75ZM568.15,49.9h0.75V125.2h-0.75ZM568.90,42.7h0.75V127.1h-0.75ZM569.65,41.7h0.75V124.7h-0.75ZM570.40,42.8h0.75V125.6h-0.75ZM571.15,38.7h0.75V122.4h-0.75ZM571.90,47.9h0.75V123.1h-0.75ZM572.65,38.2h0.75V126.1h-0.75ZM573.40,40.8h0.75V125.8h-0.75ZM574.15,40.2h0.75V125.0h-0.75ZM574.90,38.8h0.75V125.8h-0.75ZM575.65,40.9h0.75V126.1h-0.75ZM576.40,39.5h0.75V122.5h-0.75ZM577.15,40.9h0.75V125.4h-0.75ZM577.90,41.8h0.75V123.3h-0.75ZM578.65,39.7h0.75V123.5h-0.75ZM579.40,38.4h0.75V121.0h-0.75ZM580.15,41.8h0.75V122.2h-0.75ZM580.90,38.5h0.75V121.6h-0.75ZM581.65,38.8h0.75V119.5h-0.75ZM582.40,45.0h0.75V119.1h-0.75ZM583.15,39.3h0.75V123.7h-0.75ZM583.90,42.2h0.75V120.5h-0.75ZM584.65,37.2h0.75V118.1h-0.75ZM585.40,45.7h0.75V123.9h-0.75ZM586.15,38.6h0.75V118.5h-0.75ZM586.90,37.9h0.75V118.8h-0.75ZM587.65,40.5h0.75V123.3h-0.75ZM588.40,41.0h0.75V121.4h-0.75ZM589.15,43.1h0.75V120.5h-0.75ZM589.90,40.0h0.75V119.0h-0.75ZM590.65,41.7h0.75V116.2h-0.75ZM591.40,34.7h0.75V119.9h-0.75ZM592.15,35.1h0.75V119.2h-0.75ZM592.90,40.3h0.75V122.5h-0.75ZM593.65,42.1h0.75V120.1h-0.75ZM594.40,36.7h0.75V118.4h-0.75ZM595.15,38.8h0.75V116.5h-0.75ZM595.90,41.0h0.75V116.5h-0.75ZM596.65,34.0h0.75V121.6h-0.75ZM597.40,38.4h0.75V114.8h-0.75ZM598.15,40.2h0.75V115.0h-0.75ZM598.90,37.6h0.75V113.4h-0.75ZM599.65,36.0h0.75V118.3h-0.75ZM600.40,34.7h0.75V119.0h-0.75ZM601.15,41.2h0.75V118.2h-0.75ZM601.90,38.9h0.75V117.1h-0.75ZM602.65,34.0h0.75V122.2h-0.75ZM603.40,43.2h0.75V118.1h-0.75ZM604.15,37.7h0.75V119.2h-0.75ZM604.90,39.5h0.75V119.7h-0.75ZM605.65,39.1h0.75V119.5h-0.75ZM606.40,37.5h0.75V115.9h-0.75ZM607.15,36.0h0.75V114.8h-0.75ZM607.90,40.9h0.75V120.9h-0.75ZM608.65,36.3h0.75V118.7h-0.75ZM609.40,37.6h0.75V118.9h-0.75ZM610.15,36.4h0.75V115.2h-0.75ZM610.90,43.2h0.75V118.5h-0.75ZM611.65,40.9h0.75V116.5h-0.75ZM612.40,42.3h0.75V120.1h-0.75ZM613.15,39.7h0.75V116.6h-0.75ZM613.90,41.7h0.75V121.1h-0.75ZM614.65,38.2h0.75V114.8h-0.75ZM615.40,44.7h0.75V116.7h-0.75ZM616.15,38.7h0.75V117.1h-0.75ZM616.90,46.2h0.75V118.6h-0.75ZM617.65,47.2h0.75V117.0h-0.75ZM618.40,43.1h0.75V117.8h-0.75ZM619.15,41.8h0.75V111.5h-0.75ZM619.90,49.4h0.75V112.4h-0.75ZM620.65,51.8h0.75V120.3h-0.75ZM621.40,41.7h0.75V111.0h-0.75ZM622.15,40.9h0.75V116.2h-0.75ZM622.90,39.4h0.75V117.5h-0.75ZM623.65,39.6h0.75V116.0h-0.75ZM624.40,36.6h0.75V116.0h-0.75ZM625.15,36.4h0.75V115.7h-0.75ZM625.90,32.8h0.75V114.4h-0.75ZM626.65,31.0h0.75V114.0h-0.75ZM627.40,30.5h0.75V116.7h-0.75ZM628.15,33.5h0.75V113.6h-0.75ZM628.90,33.4h0.75V116.3h-0.75ZM629.65,29.9h0.75V114.0h-0.75ZM630.40,31.2h0.75V111.4h-0.75ZM631.15,28.8h0.75V117.5h-0.75ZM631.90,27.1h0.75V115.5h-0.75ZM632.65,31.1h0.75V113.2h-0.75ZM633.40,35.2h0.75V115.7h-0.75ZM634.15,37.0h0.75V111.7h-0.75ZM634.90,29.3h0.75V112.2h-0.75ZM635.65,32.6h0.75V114.5h-0.75ZM636.40,32.5h0.75V109.2h-0.75ZM637.15,31.0h0.75V114.8h-0.75ZM637.90,29.2h0.75V116.7h-0.75ZM638.65,31.0h0.75V114.3h-0.75ZM639.40,28.6h0.75V110.1h-0.75ZM640.15,35.3h0.75V114.5h-0.75ZM640.90,29.0h0.75V111.8h-0.75ZM641.65,32.7h0.75V108.4h-0.75ZM642.40,32.7h0.75V109.9h-0.75ZM643.15,29.9h0.75V112.0h-0.75ZM643.90,30.6h0.75V114.3h-0.75ZM644.65,31.0h0.75V113.3h-0.75ZM645.40,35.9h0.75V114.7h-0.75ZM646.15,37.2h0.75V117.2h-0.75ZM646.90,35.9h0.75V113.3h-0.75ZM647.65,37.9h0.75V112.0h-0.75ZM648.40,37.3h0.75V108.9h-0.75ZM649.15,38.6h0.75V115.2h-0.75ZM649.90,36.0h0.75V115.6h-0.75ZM650.65,39.8h0.75V111.8h-0.75ZM651.40,41.9h0.75V112.5h-0.75ZM652.15,35.6h0.75V113.2h-0.75ZM652.90,42.0h0.75V113.0h-0.75ZM653.65,39.3h0.75V112.9h-0.75ZM654.40,41.0h0.75V111.5h-0.75ZM655.15,39.3h0.75V111.6h-0.75ZM655.90,40.0h0.75V114.0h-0.75ZM656.65,42.7h0.75V115.1h-0.75ZM657.40,40.5h0.75V111.0h-0.75ZM658.15,40.3h0.75V110.5h-0.75ZM658.90,40.6h0.75V114.5h-0.75ZM659.65,38.9h0.75V112.7h-0.75ZM660.40,38.2h0.75V115.1h-0.75ZM661.15,38.8h0.75V117.1h-0.75ZM661.90,43.1h0.75V110.5h-0.75ZM662.65,35.9h0.75V111.9h-0.75ZM663.40,35.9h0.75V110.6h-0.75ZM664.15,35.9h0.75V116.7h-0.75ZM664.90,33.7h0.75V111.6h-0.75ZM665.65,35.7h0.75V112.1h-0.75ZM666.40,37.3h0.75V113.0h-0.75ZM667.15,31.0h0.75V116.4h-0.75ZM667.90,31.4h0.75V111.2h-0.75ZM668.65,33.1h0.75V110.6h-0.75ZM669.40,33.0h0.75V110.8h-0.75ZM670.15,31.3h0.75V114.7h-0.75ZM670.90,34.6h0.75V110.5h-0.75ZM671.65,30.5h0.75V109.6h-0.75ZM672.40,30.7h0.75V107.4h-0.75ZM673.15,28.1h0.75V108.4h-0.75ZM673.90,27.6h0.75V109.3h-0.75ZM674.65,30.2h0.05V110.9h-0.05Z" fill="#ef9151"/>
<rect x="502.9" y="9.4" width="63.9" height="10.8" fill="#fff" stroke="#bbb" stroke-width="0.8"/>
<text x="565.60" y="17.50" font-size="7.50" font-weight="bold" text-anchor="end" fill="#111" stroke="#111" stroke-width="0.18">135 % Strain</text>
<rect x="493.7" y="7.3" width="183.59999999999997" height="141.29999999999998" fill="none" stroke="#4a4a4a" stroke-width="1.1"/>
<line x1="493.70" y1="139.20" x2="496.70" y2="139.20" stroke="#4a4a4a" stroke-width="1"/>
<line x1="493.70" y1="120.40" x2="496.70" y2="120.40" stroke="#4a4a4a" stroke-width="1"/>
<line x1="493.70" y1="101.60" x2="496.70" y2="101.60" stroke="#4a4a4a" stroke-width="1"/>
<line x1="493.70" y1="82.80" x2="496.70" y2="82.80" stroke="#4a4a4a" stroke-width="1"/>
<line x1="493.70" y1="64.00" x2="496.70" y2="64.00" stroke="#4a4a4a" stroke-width="1"/>
<line x1="493.70" y1="45.20" x2="496.70" y2="45.20" stroke="#4a4a4a" stroke-width="1"/>
<line x1="493.70" y1="26.40" x2="496.70" y2="26.40" stroke="#4a4a4a" stroke-width="1"/>
<line x1="493.70" y1="7.60" x2="496.70" y2="7.60" stroke="#4a4a4a" stroke-width="1"/>
<line x1="493.70" y1="148.60" x2="495.30" y2="148.60" stroke="#4a4a4a" stroke-width="1"/>
<line x1="493.70" y1="129.80" x2="495.30" y2="129.80" stroke="#4a4a4a" stroke-width="1"/>
<line x1="493.70" y1="111.00" x2="495.30" y2="111.00" stroke="#4a4a4a" stroke-width="1"/>
<line x1="493.70" y1="92.20" x2="495.30" y2="92.20" stroke="#4a4a4a" stroke-width="1"/>
<line x1="493.70" y1="73.40" x2="495.30" y2="73.40" stroke="#4a4a4a" stroke-width="1"/>
<line x1="493.70" y1="54.60" x2="495.30" y2="54.60" stroke="#4a4a4a" stroke-width="1"/>
<line x1="493.70" y1="35.80" x2="495.30" y2="35.80" stroke="#4a4a4a" stroke-width="1"/>
<line x1="493.70" y1="17.00" x2="495.30" y2="17.00" stroke="#4a4a4a" stroke-width="1"/>
<line x1="501.70" y1="148.60" x2="501.70" y2="145.60" stroke="#4a4a4a" stroke-width="1"/>
<line x1="533.78" y1="148.60" x2="533.78" y2="145.60" stroke="#4a4a4a" stroke-width="1"/>
<line x1="565.86" y1="148.60" x2="565.86" y2="145.60" stroke="#4a4a4a" stroke-width="1"/>
<line x1="597.94" y1="148.60" x2="597.94" y2="145.60" stroke="#4a4a4a" stroke-width="1"/>
<line x1="630.02" y1="148.60" x2="630.02" y2="145.60" stroke="#4a4a4a" stroke-width="1"/>
<line x1="662.10" y1="148.60" x2="662.10" y2="145.60" stroke="#4a4a4a" stroke-width="1"/>
<line x1="517.74" y1="148.60" x2="517.74" y2="147.00" stroke="#4a4a4a" stroke-width="1"/>
<line x1="549.82" y1="148.60" x2="549.82" y2="147.00" stroke="#4a4a4a" stroke-width="1"/>
<line x1="581.90" y1="148.60" x2="581.90" y2="147.00" stroke="#4a4a4a" stroke-width="1"/>
<line x1="613.98" y1="148.60" x2="613.98" y2="147.00" stroke="#4a4a4a" stroke-width="1"/>
<line x1="646.06" y1="148.60" x2="646.06" y2="147.00" stroke="#4a4a4a" stroke-width="1"/>
<text x="490.10" y="141.60" font-size="8.29" font-weight="bold" text-anchor="end" fill="#111" stroke="#111" stroke-width="0.18" textLength="10.29" lengthAdjust="spacingAndGlyphs">2.5</text>
<text x="490.10" y="122.80" font-size="8.29" font-weight="bold" text-anchor="end" fill="#111" stroke="#111" stroke-width="0.18" textLength="10.29" lengthAdjust="spacingAndGlyphs">2.6</text>
<text x="490.10" y="104.00" font-size="8.29" font-weight="bold" text-anchor="end" fill="#111" stroke="#111" stroke-width="0.18" textLength="10.29" lengthAdjust="spacingAndGlyphs">2.7</text>
<text x="490.10" y="85.20" font-size="8.29" font-weight="bold" text-anchor="end" fill="#111" stroke="#111" stroke-width="0.18" textLength="10.29" lengthAdjust="spacingAndGlyphs">2.8</text>
<text x="490.10" y="66.40" font-size="8.29" font-weight="bold" text-anchor="end" fill="#111" stroke="#111" stroke-width="0.18" textLength="10.29" lengthAdjust="spacingAndGlyphs">2.9</text>
<text x="490.10" y="47.60" font-size="8.29" font-weight="bold" text-anchor="end" fill="#111" stroke="#111" stroke-width="0.18" textLength="10.29" lengthAdjust="spacingAndGlyphs">3.0</text>
<text x="490.10" y="28.80" font-size="8.29" font-weight="bold" text-anchor="end" fill="#111" stroke="#111" stroke-width="0.18" textLength="10.29" lengthAdjust="spacingAndGlyphs">3.1</text>
<text x="490.10" y="10.00" font-size="8.29" font-weight="bold" text-anchor="end" fill="#111" stroke="#111" stroke-width="0.18" textLength="10.29" lengthAdjust="spacingAndGlyphs">3.2</text>
<text x="501.70" y="157.70" font-size="7.95" font-weight="bold" text-anchor="middle" fill="#111" stroke="#111" stroke-width="0.18" textLength="3.95" lengthAdjust="spacingAndGlyphs">0</text>
<text x="533.78" y="157.70" font-size="7.95" font-weight="bold" text-anchor="middle" fill="#111" stroke="#111" stroke-width="0.18" textLength="19.74" lengthAdjust="spacingAndGlyphs">10000</text>
<text x="565.86" y="157.70" font-size="7.95" font-weight="bold" text-anchor="middle" fill="#111" stroke="#111" stroke-width="0.18" textLength="19.74" lengthAdjust="spacingAndGlyphs">20000</text>
<text x="597.94" y="157.70" font-size="7.95" font-weight="bold" text-anchor="middle" fill="#111" stroke="#111" stroke-width="0.18" textLength="19.74" lengthAdjust="spacingAndGlyphs">30000</text>
<text x="630.02" y="157.70" font-size="7.95" font-weight="bold" text-anchor="middle" fill="#111" stroke="#111" stroke-width="0.18" textLength="19.74" lengthAdjust="spacingAndGlyphs">40000</text>
<text x="662.10" y="157.70" font-size="7.95" font-weight="bold" text-anchor="middle" fill="#111" stroke="#111" stroke-width="0.18" textLength="19.74" lengthAdjust="spacingAndGlyphs">50000</text>
<text x="585.00" y="168.30" font-size="9.50" font-weight="bold" text-anchor="middle" fill="#111" stroke="#111" stroke-width="0.0">Number of cycles</text>
<text x="479.30" y="78.30" font-size="10.00" font-weight="bold" text-anchor="middle" fill="#111" stroke="#111" stroke-width="0.0" transform="rotate(-90 479.3 78.3)">Resistance (Ω)</text>
<text x="467.00" y="18.00" font-size="13.00" font-weight="bold" text-anchor="start" fill="#111" stroke="#111" stroke-width="0.0">c</text>
<path d="M43.80,298.04 L56.10,289.96 L68.40,289.96 L80.70,285.20 L93.00,282.83 L105.30,275.22 L117.60,267.14 L129.90,258.59 L142.20,252.88 L154.50,242.90 L166.80,227.69 L179.10,214.38 L191.40,190.62 L197.55,187.29" fill="none" stroke="#8d3fe6" stroke-width="1.2" stroke-linejoin="round"/>
<rect x="42.30" y="296.54" width="3" height="3" fill="#111"/>
<rect x="54.60" y="288.46" width="3" height="3" fill="#111"/>
<rect x="66.90" y="288.46" width="3" height="3" fill="#111"/>
<rect x="79.20" y="283.70" width="3" height="3" fill="#111"/>
<rect x="91.50" y="281.33" width="3" height="3" fill="#111"/>
<rect x="103.80" y="273.72" width="3" height="3" fill="#111"/>
<rect x="116.10" y="265.64" width="3" height="3" fill="#111"/>
<rect x="128.40" y="257.09" width="3" height="3" fill="#111"/>
<rect x="140.70" y="251.38" width="3" height="3" fill="#111"/>
<rect x="153.00" y="241.40" width="3" height="3" fill="#111"/>
<rect x="165.30" y="226.19" width="3" height="3" fill="#111"/>
<rect x="177.60" y="212.88" width="3" height="3" fill="#111"/>
<rect x="189.90" y="189.12" width="3" height="3" fill="#111"/>
<rect x="196.05" y="185.79" width="3" height="3" fill="#111"/>
<rect x="41.4" y="178.6" width="109.1" height="11.8" fill="#fff" stroke="none"/>
<path d="M41.4,190.6 V178.6 H150.5 V190.6" fill="none" stroke="#9a9a9a" stroke-width="0.8"/>
<line x1="42.3" y1="184.5" x2="60.4" y2="184.5" stroke="#8d3fe6" stroke-width="1.1"/>
<rect x="50" y="183.2" width="3.2" height="3.2" fill="#111"/>
<text x="63.20" y="188.10" font-size="8.20" font-weight="normal" text-anchor="start" fill="#111" stroke="#111" stroke-width="0.108">Resistance-Strain curve</text>
<rect x="31.5" y="175.4" width="185.1" height="142.6" fill="none" stroke="#4a4a4a" stroke-width="1.1"/>
<line x1="31.50" y1="318.00" x2="34.50" y2="318.00" stroke="#4a4a4a" stroke-width="1"/>
<line x1="31.50" y1="294.24" x2="34.50" y2="294.24" stroke="#4a4a4a" stroke-width="1"/>
<line x1="31.50" y1="270.47" x2="34.50" y2="270.47" stroke="#4a4a4a" stroke-width="1"/>
<line x1="31.50" y1="246.71" x2="34.50" y2="246.71" stroke="#4a4a4a" stroke-width="1"/>
<line x1="31.50" y1="222.94" x2="34.50" y2="222.94" stroke="#4a4a4a" stroke-width="1"/>
<line x1="31.50" y1="199.18" x2="34.50" y2="199.18" stroke="#4a4a4a" stroke-width="1"/>
<line x1="31.50" y1="175.41" x2="34.50" y2="175.41" stroke="#4a4a4a" stroke-width="1"/>
<line x1="31.50" y1="306.12" x2="33.10" y2="306.12" stroke="#4a4a4a" stroke-width="1"/>
<line x1="31.50" y1="282.35" x2="33.10" y2="282.35" stroke="#4a4a4a" stroke-width="1"/>
<line x1="31.50" y1="258.59" x2="33.10" y2="258.59" stroke="#4a4a4a" stroke-width="1"/>
<line x1="31.50" y1="234.82" x2="33.10" y2="234.82" stroke="#4a4a4a" stroke-width="1"/>
<line x1="31.50" y1="211.06" x2="33.10" y2="211.06" stroke="#4a4a4a" stroke-width="1"/>
<line x1="31.50" y1="187.29" x2="33.10" y2="187.29" stroke="#4a4a4a" stroke-width="1"/>
<line x1="31.50" y1="318.00" x2="31.50" y2="315.00" stroke="#4a4a4a" stroke-width="1"/>
<line x1="56.10" y1="318.00" x2="56.10" y2="315.00" stroke="#4a4a4a" stroke-width="1"/>
<line x1="80.70" y1="318.00" x2="80.70" y2="315.00" stroke="#4a4a4a" stroke-width="1"/>
<line x1="105.30" y1="318.00" x2="105.30" y2="315.00" stroke="#4a4a4a" stroke-width="1"/>
<line x1="129.90" y1="318.00" x2="129.90" y2="315.00" stroke="#4a4a4a" stroke-width="1"/>
<line x1="154.50" y1="318.00" x2="154.50" y2="315.00" stroke="#4a4a4a" stroke-width="1"/>
<line x1="179.10" y1="318.00" x2="179.10" y2="315.00" stroke="#4a4a4a" stroke-width="1"/>
<line x1="203.70" y1="318.00" x2="203.70" y2="315.00" stroke="#4a4a4a" stroke-width="1"/>
<line x1="43.80" y1="318.00" x2="43.80" y2="316.40" stroke="#4a4a4a" stroke-width="1"/>
<line x1="68.40" y1="318.00" x2="68.40" y2="316.40" stroke="#4a4a4a" stroke-width="1"/>
<line x1="93.00" y1="318.00" x2="93.00" y2="316.40" stroke="#4a4a4a" stroke-width="1"/>
<line x1="117.60" y1="318.00" x2="117.60" y2="316.40" stroke="#4a4a4a" stroke-width="1"/>
<line x1="142.20" y1="318.00" x2="142.20" y2="316.40" stroke="#4a4a4a" stroke-width="1"/>
<line x1="166.80" y1="318.00" x2="166.80" y2="316.40" stroke="#4a4a4a" stroke-width="1"/>
<line x1="191.40" y1="318.00" x2="191.40" y2="316.40" stroke="#4a4a4a" stroke-width="1"/>
<line x1="216.00" y1="318.00" x2="216.00" y2="316.40" stroke="#4a4a4a" stroke-width="1"/>
<text x="28.90" y="320.50" font-size="8.96" font-weight="bold" text-anchor="end" fill="#111" stroke="#111" stroke-width="0.18" textLength="15.57" lengthAdjust="spacingAndGlyphs">2.45</text>
<text x="28.90" y="296.74" font-size="8.96" font-weight="bold" text-anchor="end" fill="#111" stroke="#111" stroke-width="0.18" textLength="15.57" lengthAdjust="spacingAndGlyphs">2.50</text>
<text x="28.90" y="272.97" font-size="8.96" font-weight="bold" text-anchor="end" fill="#111" stroke="#111" stroke-width="0.18" textLength="15.57" lengthAdjust="spacingAndGlyphs">2.55</text>
<text x="28.90" y="249.21" font-size="8.96" font-weight="bold" text-anchor="end" fill="#111" stroke="#111" stroke-width="0.18" textLength="15.57" lengthAdjust="spacingAndGlyphs">2.60</text>
<text x="28.90" y="225.44" font-size="8.96" font-weight="bold" text-anchor="end" fill="#111" stroke="#111" stroke-width="0.18" textLength="15.57" lengthAdjust="spacingAndGlyphs">2.65</text>
<text x="28.90" y="201.68" font-size="8.96" font-weight="bold" text-anchor="end" fill="#111" stroke="#111" stroke-width="0.18" textLength="15.57" lengthAdjust="spacingAndGlyphs">2.70</text>
<text x="28.90" y="177.91" font-size="8.96" font-weight="bold" text-anchor="end" fill="#111" stroke="#111" stroke-width="0.18" textLength="15.57" lengthAdjust="spacingAndGlyphs">2.75</text>
<text x="31.50" y="327.50" font-size="8.51" font-weight="bold" text-anchor="middle" fill="#111" stroke="#111" stroke-width="0.18" textLength="4.23" lengthAdjust="spacingAndGlyphs">0</text>
<text x="56.10" y="327.50" font-size="8.51" font-weight="bold" text-anchor="middle" fill="#111" stroke="#111" stroke-width="0.18" textLength="8.45" lengthAdjust="spacingAndGlyphs">20</text>
<text x="80.70" y="327.50" font-size="8.51" font-weight="bold" text-anchor="middle" fill="#111" stroke="#111" stroke-width="0.18" textLength="8.45" lengthAdjust="spacingAndGlyphs">40</text>
<text x="105.30" y="327.50" font-size="8.51" font-weight="bold" text-anchor="middle" fill="#111" stroke="#111" stroke-width="0.18" textLength="8.45" lengthAdjust="spacingAndGlyphs">60</text>
<text x="129.90" y="327.50" font-size="8.51" font-weight="bold" text-anchor="middle" fill="#111" stroke="#111" stroke-width="0.18" textLength="8.45" lengthAdjust="spacingAndGlyphs">80</text>
<text x="154.50" y="327.50" font-size="8.51" font-weight="bold" text-anchor="middle" fill="#111" stroke="#111" stroke-width="0.18" textLength="12.68" lengthAdjust="spacingAndGlyphs">100</text>
<text x="179.10" y="327.50" font-size="8.51" font-weight="bold" text-anchor="middle" fill="#111" stroke="#111" stroke-width="0.18" textLength="12.68" lengthAdjust="spacingAndGlyphs">120</text>
<text x="203.70" y="327.50" font-size="8.51" font-weight="bold" text-anchor="middle" fill="#111" stroke="#111" stroke-width="0.18" textLength="12.68" lengthAdjust="spacingAndGlyphs">140</text>
<text x="124.20" y="341.90" font-size="10.30" font-weight="bold" text-anchor="middle" fill="#111" stroke="#111" stroke-width="0.0">Strain (%)</text>
<text x="10.50" y="246.90" font-size="11.00" font-weight="bold" text-anchor="middle" fill="#111" stroke="#111" stroke-width="0.0" transform="rotate(-90 10.5 246.9)">Resistance (Ω)</text>
<text x="1.50" y="187.50" font-size="13.00" font-weight="bold" text-anchor="start" fill="#111" stroke="#111" stroke-width="0.0">d</text>
<path d="M270.09,306.17 L316.85,293.49 L346.07,281.55 L375.30,270.14 L433.75,222.39" fill="none" stroke="#333" stroke-width="1.2" stroke-linejoin="round"/>
<rect x="268.19" y="304.27000000000004" width="3.8" height="3.8" fill="#333"/>
<rect x="314.95000000000005" y="291.59000000000003" width="3.8" height="3.8" fill="#333"/>
<rect x="344.17" y="279.65000000000003" width="3.8" height="3.8" fill="#333"/>
<rect x="373.40000000000003" y="268.24" width="3.8" height="3.8" fill="#333"/>
<rect x="431.85" y="220.48999999999998" width="3.8" height="3.8" fill="#333"/>
<path d="M270.09,306.17 L316.85,291.25 L346.07,275.36 L375.30,263.57 L433.75,214.78" fill="none" stroke="#f04247" stroke-width="1.2" stroke-linejoin="round"/>
<circle cx="270.09" cy="306.17" r="1.9" fill="#f04247"/>
<circle cx="316.85" cy="291.25" r="1.9" fill="#f04247"/>
<circle cx="346.07" cy="275.36" r="1.9" fill="#f04247"/>
<circle cx="375.3" cy="263.57" r="1.9" fill="#f04247"/>
<circle cx="433.75" cy="214.78" r="1.9" fill="#f04247"/>
<path d="M270.09,303.93 L316.85,281.55 L346.07,265.96 L375.30,249.25 L433.75,212.70" fill="none" stroke="#477bf0" stroke-width="1.2" stroke-linejoin="round"/>
<path d="M267.81,305.64 L272.36999999999995,305.64 L270.09,301.65000000000003 Z" fill="#477bf0"/>
<path d="M314.57000000000005,283.26 L319.13,283.26 L316.85,279.27000000000004 Z" fill="#477bf0"/>
<path d="M343.79,267.66999999999996 L348.34999999999997,267.66999999999996 L346.07,263.68 Z" fill="#477bf0"/>
<path d="M373.02000000000004,250.96 L377.58,250.96 L375.3,246.97 Z" fill="#477bf0"/>
<path d="M431.47,214.41 L436.03,214.41 L433.75,210.42 Z" fill="#477bf0"/>
<path d="M270.09,303.19 L316.85,269.62 L346.07,261.71 L375.30,246.79 L433.75,200.46" fill="none" stroke="#58bc72" stroke-width="1.2" stroke-linejoin="round"/>
<path d="M267.81,301.48 L272.36999999999995,301.48 L270.09,305.46999999999997 Z" fill="#58bc72"/>
<path d="M314.57000000000005,267.91 L319.13,267.91 L316.85,271.9 Z" fill="#58bc72"/>
<path d="M343.79,260.0 L348.34999999999997,260.0 L346.07,263.98999999999995 Z" fill="#58bc72"/>
<path d="M373.02000000000004,245.07999999999998 L377.58,245.07999999999998 L375.3,249.07 Z" fill="#58bc72"/>
<path d="M431.47,198.75 L436.03,198.75 L433.75,202.74 Z" fill="#58bc72"/>
<path d="M270.09,302.44 L316.85,268.12 L346.07,250.22 L375.30,230.38 L433.75,190.54" fill="none" stroke="#b277f0" stroke-width="1.2" stroke-linejoin="round"/>
<path d="M270.09,299.96999999999997 L272.17999999999995,302.44 L270.09,304.91 L268.0,302.44 Z" fill="#b277f0"/>
<path d="M316.85,265.65 L318.94,268.12 L316.85,270.59000000000003 L314.76000000000005,268.12 Z" fill="#b277f0"/>
<path d="M346.07,247.75 L348.15999999999997,250.22 L346.07,252.69 L343.98,250.22 Z" fill="#b277f0"/>
<path d="M375.3,227.91 L377.39,230.38 L375.3,232.85 L373.21000000000004,230.38 Z" fill="#b277f0"/>
<path d="M433.75,188.07 L435.84,190.54 L433.75,193.01 L431.66,190.54 Z" fill="#b277f0"/>
<rect x="259.5" y="177" width="127.3" height="29.3" fill="#fff" stroke="none"/>
<line x1="262" y1="206.3" x2="386.8" y2="206.3" stroke="#c8c8c8" stroke-width="0.8"/>
<line x1="262.8" y1="181.6" x2="279.5" y2="181.6" stroke="#b277f0" stroke-width="1.2"/>
<path d="M271.15,179.13 L273.23999999999995,181.6 L271.15,184.07 L269.06,181.6 Z" fill="#b277f0"/>
<text x="281.60" y="184.40" font-size="8.10" font-weight="bold" text-anchor="start" fill="#111" stroke="#111" stroke-width="0.18" textLength="27.51" lengthAdjust="spacingAndGlyphs">Pristine</text>
<line x1="322.4" y1="181.6" x2="339.2" y2="181.6" stroke="#58bc72" stroke-width="1.2"/>
<path d="M328.52000000000004,179.89 L333.08,179.89 L330.8,183.88 Z" fill="#58bc72"/>
<text x="341.20" y="184.40" font-size="8.10" font-weight="bold" text-anchor="start" fill="#111" stroke="#111" stroke-width="0.18" textLength="40.43" lengthAdjust="spacingAndGlyphs">50 % Strain</text>
<line x1="262.8" y1="191.8" x2="279.5" y2="191.8" stroke="#477bf0" stroke-width="1.2"/>
<path d="M268.87,193.51000000000002 L273.42999999999995,193.51000000000002 L271.15,189.52 Z" fill="#477bf0"/>
<text x="281.60" y="194.60" font-size="8.10" font-weight="bold" text-anchor="start" fill="#111" stroke="#111" stroke-width="0.18" textLength="40.43" lengthAdjust="spacingAndGlyphs">75 % Strain</text>
<line x1="322.4" y1="191.8" x2="339.2" y2="191.8" stroke="#f04247" stroke-width="1.2"/>
<circle cx="330.8" cy="191.8" r="1.9" fill="#f04247"/>
<text x="341.20" y="194.60" font-size="8.10" font-weight="bold" text-anchor="start" fill="#111" stroke="#111" stroke-width="0.18" textLength="44.60" lengthAdjust="spacingAndGlyphs">100 % Strain</text>
<line x1="262.8" y1="201.6" x2="279.5" y2="201.6" stroke="#333" stroke-width="1.2"/>
<rect x="269.25" y="199.7" width="3.8" height="3.8" fill="#333"/>
<text x="281.60" y="204.40" font-size="8.10" font-weight="bold" text-anchor="start" fill="#111" stroke="#111" stroke-width="0.18" textLength="44.60" lengthAdjust="spacingAndGlyphs">135 % Strain</text>
<rect x="257.6" y="175.5" width="187.2" height="141.89999999999998" fill="none" stroke="#4a4a4a" stroke-width="1.1"/>
<line x1="257.60" y1="309.90" x2="260.60" y2="309.90" stroke="#4a4a4a" stroke-width="1"/>
<line x1="257.60" y1="294.98" x2="260.60" y2="294.98" stroke="#4a4a4a" stroke-width="1"/>
<line x1="257.60" y1="280.06" x2="260.60" y2="280.06" stroke="#4a4a4a" stroke-width="1"/>
<line x1="257.60" y1="265.14" x2="260.60" y2="265.14" stroke="#4a4a4a" stroke-width="1"/>
<line x1="257.60" y1="250.22" x2="260.60" y2="250.22" stroke="#4a4a4a" stroke-width="1"/>
<line x1="257.60" y1="235.30" x2="260.60" y2="235.30" stroke="#4a4a4a" stroke-width="1"/>
<line x1="257.60" y1="220.38" x2="260.60" y2="220.38" stroke="#4a4a4a" stroke-width="1"/>
<line x1="257.60" y1="205.46" x2="260.60" y2="205.46" stroke="#4a4a4a" stroke-width="1"/>
<line x1="257.60" y1="190.54" x2="260.60" y2="190.54" stroke="#4a4a4a" stroke-width="1"/>
<line x1="257.60" y1="175.62" x2="260.60" y2="175.62" stroke="#4a4a4a" stroke-width="1"/>
<line x1="257.60" y1="317.36" x2="259.20" y2="317.36" stroke="#4a4a4a" stroke-width="1"/>
<line x1="257.60" y1="302.44" x2="259.20" y2="302.44" stroke="#4a4a4a" stroke-width="1"/>
<line x1="257.60" y1="287.52" x2="259.20" y2="287.52" stroke="#4a4a4a" stroke-width="1"/>
<line x1="257.60" y1="272.60" x2="259.20" y2="272.60" stroke="#4a4a4a" stroke-width="1"/>
<line x1="257.60" y1="257.68" x2="259.20" y2="257.68" stroke="#4a4a4a" stroke-width="1"/>
<line x1="257.60" y1="242.76" x2="259.20" y2="242.76" stroke="#4a4a4a" stroke-width="1"/>
<line x1="257.60" y1="227.84" x2="259.20" y2="227.84" stroke="#4a4a4a" stroke-width="1"/>
<line x1="257.60" y1="212.92" x2="259.20" y2="212.92" stroke="#4a4a4a" stroke-width="1"/>
<line x1="257.60" y1="198.00" x2="259.20" y2="198.00" stroke="#4a4a4a" stroke-width="1"/>
<line x1="257.60" y1="183.08" x2="259.20" y2="183.08" stroke="#4a4a4a" stroke-width="1"/>
<line x1="258.40" y1="317.40" x2="258.40" y2="314.40" stroke="#4a4a4a" stroke-width="1"/>
<line x1="287.62" y1="317.40" x2="287.62" y2="314.40" stroke="#4a4a4a" stroke-width="1"/>
<line x1="316.85" y1="317.40" x2="316.85" y2="314.40" stroke="#4a4a4a" stroke-width="1"/>
<line x1="346.07" y1="317.40" x2="346.07" y2="314.40" stroke="#4a4a4a" stroke-width="1"/>
<line x1="375.30" y1="317.40" x2="375.30" y2="314.40" stroke="#4a4a4a" stroke-width="1"/>
<line x1="404.52" y1="317.40" x2="404.52" y2="314.40" stroke="#4a4a4a" stroke-width="1"/>
<line x1="433.75" y1="317.40" x2="433.75" y2="314.40" stroke="#4a4a4a" stroke-width="1"/>
<line x1="273.01" y1="317.40" x2="273.01" y2="315.80" stroke="#4a4a4a" stroke-width="1"/>
<line x1="302.24" y1="317.40" x2="302.24" y2="315.80" stroke="#4a4a4a" stroke-width="1"/>
<line x1="331.46" y1="317.40" x2="331.46" y2="315.80" stroke="#4a4a4a" stroke-width="1"/>
<line x1="360.69" y1="317.40" x2="360.69" y2="315.80" stroke="#4a4a4a" stroke-width="1"/>
<line x1="389.91" y1="317.40" x2="389.91" y2="315.80" stroke="#4a4a4a" stroke-width="1"/>
<line x1="419.14" y1="317.40" x2="419.14" y2="315.80" stroke="#4a4a4a" stroke-width="1"/>
<text x="255.30" y="312.30" font-size="8.62" font-weight="bold" text-anchor="end" fill="#111" stroke="#111" stroke-width="0.18" textLength="10.70" lengthAdjust="spacingAndGlyphs">0.0</text>
<text x="255.30" y="297.38" font-size="8.62" font-weight="bold" text-anchor="end" fill="#111" stroke="#111" stroke-width="0.18" textLength="10.70" lengthAdjust="spacingAndGlyphs">0.2</text>
<text x="255.30" y="282.46" font-size="8.62" font-weight="bold" text-anchor="end" fill="#111" stroke="#111" stroke-width="0.18" textLength="10.70" lengthAdjust="spacingAndGlyphs">0.4</text>
<text x="255.30" y="267.54" font-size="8.62" font-weight="bold" text-anchor="end" fill="#111" stroke="#111" stroke-width="0.18" textLength="10.70" lengthAdjust="spacingAndGlyphs">0.6</text>
<text x="255.30" y="252.62" font-size="8.62" font-weight="bold" text-anchor="end" fill="#111" stroke="#111" stroke-width="0.18" textLength="10.70" lengthAdjust="spacingAndGlyphs">0.8</text>
<text x="255.30" y="237.70" font-size="8.62" font-weight="bold" text-anchor="end" fill="#111" stroke="#111" stroke-width="0.18" textLength="10.70" lengthAdjust="spacingAndGlyphs">1.0</text>
<text x="255.30" y="222.78" font-size="8.62" font-weight="bold" text-anchor="end" fill="#111" stroke="#111" stroke-width="0.18" textLength="10.70" lengthAdjust="spacingAndGlyphs">1.2</text>
<text x="255.30" y="207.86" font-size="8.62" font-weight="bold" text-anchor="end" fill="#111" stroke="#111" stroke-width="0.18" textLength="10.70" lengthAdjust="spacingAndGlyphs">1.4</text>
<text x="255.30" y="192.94" font-size="8.62" font-weight="bold" text-anchor="end" fill="#111" stroke="#111" stroke-width="0.18" textLength="10.70" lengthAdjust="spacingAndGlyphs">1.6</text>
<text x="255.30" y="178.02" font-size="8.62" font-weight="bold" text-anchor="end" fill="#111" stroke="#111" stroke-width="0.18" textLength="10.70" lengthAdjust="spacingAndGlyphs">1.8</text>
<text x="258.40" y="326.80" font-size="8.62" font-weight="bold" text-anchor="middle" fill="#111" stroke="#111" stroke-width="0.18" textLength="14.99" lengthAdjust="spacingAndGlyphs">0.00</text>
<text x="287.62" y="326.80" font-size="8.62" font-weight="bold" text-anchor="middle" fill="#111" stroke="#111" stroke-width="0.18" textLength="14.99" lengthAdjust="spacingAndGlyphs">0.25</text>
<text x="316.85" y="326.80" font-size="8.62" font-weight="bold" text-anchor="middle" fill="#111" stroke="#111" stroke-width="0.18" textLength="14.99" lengthAdjust="spacingAndGlyphs">0.50</text>
<text x="346.07" y="326.80" font-size="8.62" font-weight="bold" text-anchor="middle" fill="#111" stroke="#111" stroke-width="0.18" textLength="14.99" lengthAdjust="spacingAndGlyphs">0.75</text>
<text x="375.30" y="326.80" font-size="8.62" font-weight="bold" text-anchor="middle" fill="#111" stroke="#111" stroke-width="0.18" textLength="14.99" lengthAdjust="spacingAndGlyphs">1.00</text>
<text x="404.52" y="326.80" font-size="8.62" font-weight="bold" text-anchor="middle" fill="#111" stroke="#111" stroke-width="0.18" textLength="14.99" lengthAdjust="spacingAndGlyphs">1.25</text>
<text x="433.75" y="326.80" font-size="8.62" font-weight="bold" text-anchor="middle" fill="#111" stroke="#111" stroke-width="0.18" textLength="14.99" lengthAdjust="spacingAndGlyphs">1.50</text>
<text x="351.30" y="336.30" font-size="9.80" font-weight="bold" text-anchor="middle" fill="#111" stroke="#111" stroke-width="0.0">Voltage (V)</text>
<text x="240.40" y="245.30" font-size="9.80" font-weight="bold" text-anchor="middle" fill="#111" stroke="#111" stroke-width="0.0" transform="rotate(-90 240.4 245.3)">Current (A)</text>
<text x="226.80" y="187.00" font-size="13.00" font-weight="bold" text-anchor="start" fill="#111" stroke="#111" stroke-width="0.0">e</text>
<path d="M503.90,307.33 L504.57,307.21 L505.24,306.67 L505.90,306.31 L506.57,306.08 L507.24,305.32 L507.91,305.38 L508.57,304.82 L509.24,304.33 L509.91,304.15 L510.58,303.51 L511.25,303.49 L511.91,302.91 L512.58,302.42 L513.25,302.24 L513.92,301.68 L514.58,301.15 L515.25,301.03 L515.92,300.28 L516.59,300.27 L517.26,299.58 L517.92,299.38 L518.59,299.15 L519.26,298.55 L519.93,298.12 L520.60,297.41 L521.26,296.72 L521.93,296.20 L522.60,295.73 L523.27,295.42 L523.93,294.80 L524.60,294.30 L525.27,293.96 L525.94,293.05 L526.61,292.61 L527.27,292.35 L527.94,291.56 L528.61,291.08 L529.28,290.78 L529.94,290.18 L530.61,289.84 L531.28,289.30 L531.95,289.00 L532.62,288.53 L533.28,287.74 L533.95,287.35 L534.62,286.68 L535.29,285.92 L535.95,285.72 L536.62,284.78 L537.29,284.13 L537.96,283.51 L538.63,283.18 L539.29,282.72 L539.96,282.21 L540.63,281.56 L541.30,281.03 L541.97,280.44 L542.63,280.30 L543.30,279.79 L543.97,279.22 L544.64,278.91 L545.30,278.35 L545.97,278.07 L546.64,277.34 L547.31,276.48 L547.98,276.18 L548.64,275.13 L549.31,274.76 L549.98,274.07 L550.65,273.68 L551.31,273.29 L551.98,273.35 L552.65,272.67 L553.32,272.64 L553.99,272.53 L554.65,271.84 L555.32,271.56 L555.99,271.33 L556.66,270.50 L557.32,269.78 L557.99,269.09 L558.66,267.98 L559.33,267.27 L560.00,266.48 L560.66,265.57 L561.33,265.21 L562.00,264.48 L562.67,263.85 L563.34,262.90 L564.00,262.72 L564.67,262.07 L565.34,261.33 L566.01,260.87 L566.67,260.13 L567.34,259.41 L568.01,258.93 L568.68,258.60 L569.35,258.10 L570.01,257.84 L570.68,257.64 L571.35,257.21 L572.02,256.89 L572.68,256.42 L573.35,255.73 L574.02,255.21 L574.69,254.48 L575.36,253.99 L576.02,253.19 L576.69,252.39 L577.36,251.91 L578.03,251.41 L578.69,250.36 L579.36,250.15 L580.03,249.28 L580.70,248.96 L581.37,248.50 L582.03,248.31 L582.70,247.97 L583.37,247.43 L584.04,246.78 L584.71,246.61 L585.37,245.90 L586.04,245.33 L586.71,245.00 L587.38,244.19 L588.04,243.55 L588.71,242.87 L589.38,242.36 L590.05,241.44 L590.72,240.95 L591.38,240.22 L592.05,239.72 L592.72,238.98 L593.39,238.60 L594.05,237.99 L594.72,237.33 L595.39,236.75 L596.06,236.43 L596.73,235.62 L597.39,235.51 L598.06,234.59 L598.73,233.99 L599.40,233.49 L600.06,233.36 L600.73,232.52 L601.40,231.88 L602.07,231.28 L602.74,230.75 L603.40,230.55 L604.07,230.03 L604.74,229.57 L605.41,229.10 L606.08,228.27 L606.74,228.04 L607.41,227.44 L608.08,227.17 L608.75,226.68 L609.41,226.23 L610.08,225.34 L610.75,225.38 L611.42,225.05 L612.09,224.71 L612.75,223.93 L613.42,223.62 L614.09,223.22 L614.76,222.82 L615.42,222.87 L616.09,222.45 L616.76,221.90 L617.43,221.54 L618.10,220.98 L618.76,220.35 L619.43,219.80 L620.10,219.33 L620.77,219.20 L621.43,218.47 L622.10,218.00 L622.77,217.51 L623.44,216.76 L624.11,216.33 L624.77,215.80 L625.44,215.47 L626.11,214.75 L626.78,214.18 L627.45,213.96 L628.11,213.18 L628.78,212.81 L629.45,212.15 L630.12,211.35 L630.78,211.10 L631.45,210.67 L632.12,210.39 L632.79,209.73 L633.46,209.47 L634.12,208.94 L634.79,208.33 L635.46,208.21 L636.13,207.38 L636.79,207.30 L637.46,206.53 L638.13,206.00 L638.80,205.64 L639.47,205.44 L640.13,205.07 L640.80,204.11 L641.47,203.88 L642.14,203.40 L642.80,203.08 L643.47,202.30 L644.14,201.98 L644.81,201.43 L645.48,201.19 L646.14,200.43 L646.81,200.30 L647.48,199.49 L648.15,198.98 L648.82,198.77 L649.48,198.27 L650.15,197.67 L650.82,197.53 L651.49,196.85 L652.15,196.80 L652.82,196.35 L653.49,196.00 L654.16,195.51 L654.83,194.98 L655.49,194.60 L656.16,194.19 L656.83,194.03 L657.50,193.22 L658.16,193.21 L658.83,192.37 L659.50,192.05" fill="none" stroke="#3a3a3a" stroke-width="1.3" stroke-linejoin="round"/>
<path d="M503.90,307.28 L504.57,307.22 L505.23,306.65 L505.90,306.21 L506.57,306.08 L507.24,305.38 L507.90,305.12 L508.57,304.78 L509.24,304.51 L509.91,304.13 L510.57,303.70 L511.24,303.18 L511.91,302.79 L512.57,302.32 L513.24,302.29 L513.91,301.80 L514.58,301.44 L515.24,300.75 L515.91,300.48 L516.58,300.25 L517.24,299.75 L517.91,299.13 L518.58,298.89 L519.25,298.70 L519.91,297.98 L520.58,297.56 L521.25,297.21 L521.92,297.01 L522.58,296.68 L523.25,295.94 L523.92,295.54 L524.58,295.18 L525.25,294.82 L525.92,294.52 L526.59,293.94 L527.25,293.62 L527.92,293.15 L528.59,293.14 L529.25,292.62 L529.92,291.91 L530.59,291.94 L531.26,291.11 L531.92,290.85 L532.59,290.75 L533.26,290.32 L533.93,289.95 L534.59,289.47 L535.26,289.02 L535.93,288.91 L536.59,288.31 L537.26,288.02 L537.93,287.78 L538.60,287.27 L539.26,287.12 L539.93,286.97 L540.60,286.59 L541.27,286.15 L541.93,285.88 L542.60,285.46 L543.27,284.96 L543.93,284.85 L544.60,284.41 L545.27,284.24 L545.94,283.96 L546.60,283.32 L547.27,282.99 L547.94,282.67 L548.60,282.10 L549.27,281.60 L549.94,281.45 L550.61,281.20 L551.27,280.82 L551.94,280.46 L552.61,280.22 L553.28,279.81 L553.94,279.47 L554.61,279.05 L555.28,278.66 L555.94,278.49 L556.61,277.91 L557.28,277.75 L557.95,277.61 L558.61,277.25 L559.28,276.88 L559.95,276.37 L560.61,276.14 L561.28,275.83 L561.95,275.55 L562.62,275.04 L563.28,274.77 L563.95,274.50 L564.62,273.72 L565.29,273.55 L565.95,273.21 L566.62,272.62 L567.29,272.26 L567.95,272.10 L568.62,271.23 L569.29,271.08 L569.96,270.49 L570.62,270.40 L571.29,270.07 L571.96,269.46 L572.63,268.85 L573.29,268.67 L573.96,268.14 L574.63,267.72 L575.29,267.10 L575.96,266.66 L576.63,266.24 L577.30,265.58 L577.96,265.01 L578.63,264.77 L579.30,263.89 L579.96,263.62 L580.63,263.06 L581.30,262.84 L581.97,262.12 L582.63,262.14 L583.30,261.43 L583.97,260.87 L584.64,260.58 L585.30,260.23 L585.97,259.63 L586.64,259.43 L587.30,259.03 L587.97,258.76 L588.64,258.19 L589.31,257.74 L589.97,257.31 L590.64,257.17 L591.31,256.86 L591.97,256.25 L592.64,255.69 L593.31,255.58 L593.98,254.97 L594.64,254.47 L595.31,254.06 L595.98,254.05 L596.65,253.73 L597.31,253.31 L597.98,252.89 L598.65,252.61 L599.31,252.11 L599.98,252.14 L600.65,251.50 L601.32,251.31 L601.98,251.07 L602.65,250.73 L603.32,250.22 L603.99,249.77 L604.65,249.53 L605.32,248.96 L605.99,248.95 L606.65,248.35 L607.32,248.23 L607.99,247.58 L608.66,247.27 L609.32,246.85 L609.99,246.57 L610.66,246.22 L611.32,245.89 L611.99,246.02 L612.66,245.57 L613.33,245.33 L613.99,245.12 L614.66,244.98 L615.33,244.73 L616.00,244.51 L616.66,244.00 L617.33,243.32 L618.00,243.07 L618.66,242.51 L619.33,241.58 L620.00,241.43 L620.67,240.94 L621.33,240.35 L622.00,239.70 L622.67,239.83 L623.33,239.53 L624.00,239.01 L624.67,238.80 L625.34,239.07 L626.00,238.71 L626.67,238.30 L627.34,238.02 L628.01,237.59 L628.67,237.17 L629.34,236.97 L630.01,236.28 L630.67,235.71 L631.34,235.62 L632.01,235.09 L632.68,234.30 L633.34,234.25 L634.01,233.92 L634.68,233.81 L635.35,233.56 L636.01,233.47 L636.68,233.22 L637.35,233.05 L638.01,232.54 L638.68,232.59 L639.35,232.24 L640.02,232.01 L640.68,231.53 L641.35,231.42 L642.02,230.92 L642.68,230.44 L643.35,230.09 L644.02,229.71 L644.69,229.55 L645.35,229.12 L646.02,229.13 L646.69,228.77 L647.36,228.75 L648.02,228.55 L648.69,228.38 L649.36,228.35 L650.02,227.72 L650.69,227.92 L651.36,227.40 L652.03,227.12 L652.69,226.84 L653.36,226.59 L654.03,226.02 L654.69,225.71 L655.36,225.65 L656.03,224.87 L656.70,224.80 L657.36,224.43 L658.03,223.75 L658.70,223.67 L659.37,223.34 L660.03,223.09 L660.70,222.42" fill="none" stroke="#f04247" stroke-width="1.3" stroke-linejoin="round"/>
<rect x="557.5" y="178.9" width="67" height="21.7" fill="#fff" stroke="#e6e6e6" stroke-width="0.8"/>
<line x1="558.5" y1="184.2" x2="576" y2="184.2" stroke="#3a3a3a" stroke-width="1.2"/>
<line x1="558.5" y1="195.3" x2="576" y2="195.3" stroke="#ee3b44" stroke-width="1.2"/>
<text x="578.60" y="187.40" font-size="8.00" font-weight="normal" text-anchor="start" fill="#111" stroke="#111" stroke-width="0.108">Pristine PBU</text>
<text x="578.60" y="197.80" font-size="8.00" font-weight="normal" text-anchor="start" fill="#111" stroke="#111" stroke-width="0.108">PBU-EGaIn</text>
<text x="497.00" y="223.10" font-size="7.95" font-weight="bold" text-anchor="start" fill="#111" stroke="#111" stroke-width="0.18">Young's Modulus = 85.5 kPa</text>
<text x="562.20" y="290.50" font-size="7.90" font-weight="bold" text-anchor="start" fill="#ee2a32" stroke="#ee2a32" stroke-width="0.18">Young's Modulus = 67.2 kPa</text>
<rect x="493.2" y="175.1" width="184.3" height="143.70000000000002" fill="none" stroke="#4a4a4a" stroke-width="1.1"/>
<line x1="493.20" y1="307.70" x2="496.20" y2="307.70" stroke="#4a4a4a" stroke-width="1"/>
<line x1="493.20" y1="285.58" x2="496.20" y2="285.58" stroke="#4a4a4a" stroke-width="1"/>
<line x1="493.20" y1="263.46" x2="496.20" y2="263.46" stroke="#4a4a4a" stroke-width="1"/>
<line x1="493.20" y1="241.34" x2="496.20" y2="241.34" stroke="#4a4a4a" stroke-width="1"/>
<line x1="493.20" y1="219.22" x2="496.20" y2="219.22" stroke="#4a4a4a" stroke-width="1"/>
<line x1="493.20" y1="197.10" x2="496.20" y2="197.10" stroke="#4a4a4a" stroke-width="1"/>
<line x1="493.20" y1="174.98" x2="496.20" y2="174.98" stroke="#4a4a4a" stroke-width="1"/>
<line x1="493.20" y1="318.76" x2="494.80" y2="318.76" stroke="#4a4a4a" stroke-width="1"/>
<line x1="493.20" y1="296.64" x2="494.80" y2="296.64" stroke="#4a4a4a" stroke-width="1"/>
<line x1="493.20" y1="274.52" x2="494.80" y2="274.52" stroke="#4a4a4a" stroke-width="1"/>
<line x1="493.20" y1="252.40" x2="494.80" y2="252.40" stroke="#4a4a4a" stroke-width="1"/>
<line x1="493.20" y1="230.28" x2="494.80" y2="230.28" stroke="#4a4a4a" stroke-width="1"/>
<line x1="493.20" y1="208.16" x2="494.80" y2="208.16" stroke="#4a4a4a" stroke-width="1"/>
<line x1="493.20" y1="186.04" x2="494.80" y2="186.04" stroke="#4a4a4a" stroke-width="1"/>
<line x1="504.20" y1="318.80" x2="504.20" y2="315.80" stroke="#4a4a4a" stroke-width="1"/>
<line x1="525.86" y1="318.80" x2="525.86" y2="315.80" stroke="#4a4a4a" stroke-width="1"/>
<line x1="547.52" y1="318.80" x2="547.52" y2="315.80" stroke="#4a4a4a" stroke-width="1"/>
<line x1="569.18" y1="318.80" x2="569.18" y2="315.80" stroke="#4a4a4a" stroke-width="1"/>
<line x1="590.84" y1="318.80" x2="590.84" y2="315.80" stroke="#4a4a4a" stroke-width="1"/>
<line x1="612.50" y1="318.80" x2="612.50" y2="315.80" stroke="#4a4a4a" stroke-width="1"/>
<line x1="634.16" y1="318.80" x2="634.16" y2="315.80" stroke="#4a4a4a" stroke-width="1"/>
<line x1="655.82" y1="318.80" x2="655.82" y2="315.80" stroke="#4a4a4a" stroke-width="1"/>
<line x1="677.48" y1="318.80" x2="677.48" y2="315.80" stroke="#4a4a4a" stroke-width="1"/>
<line x1="493.37" y1="318.80" x2="493.37" y2="317.20" stroke="#4a4a4a" stroke-width="1"/>
<line x1="515.03" y1="318.80" x2="515.03" y2="317.20" stroke="#4a4a4a" stroke-width="1"/>
<line x1="536.69" y1="318.80" x2="536.69" y2="317.20" stroke="#4a4a4a" stroke-width="1"/>
<line x1="558.35" y1="318.80" x2="558.35" y2="317.20" stroke="#4a4a4a" stroke-width="1"/>
<line x1="580.01" y1="318.80" x2="580.01" y2="317.20" stroke="#4a4a4a" stroke-width="1"/>
<line x1="601.67" y1="318.80" x2="601.67" y2="317.20" stroke="#4a4a4a" stroke-width="1"/>
<line x1="623.33" y1="318.80" x2="623.33" y2="317.20" stroke="#4a4a4a" stroke-width="1"/>
<line x1="644.99" y1="318.80" x2="644.99" y2="317.20" stroke="#4a4a4a" stroke-width="1"/>
<line x1="666.65" y1="318.80" x2="666.65" y2="317.20" stroke="#4a4a4a" stroke-width="1"/>
<text x="490.60" y="310.20" font-size="8.74" font-weight="bold" text-anchor="end" fill="#111" stroke="#111" stroke-width="0.18" textLength="4.34" lengthAdjust="spacingAndGlyphs">2</text>
<text x="490.60" y="288.08" font-size="8.74" font-weight="bold" text-anchor="end" fill="#111" stroke="#111" stroke-width="0.18" textLength="4.34" lengthAdjust="spacingAndGlyphs">4</text>
<text x="490.60" y="265.96" font-size="8.74" font-weight="bold" text-anchor="end" fill="#111" stroke="#111" stroke-width="0.18" textLength="4.34" lengthAdjust="spacingAndGlyphs">6</text>
<text x="490.60" y="243.84" font-size="8.74" font-weight="bold" text-anchor="end" fill="#111" stroke="#111" stroke-width="0.18" textLength="4.34" lengthAdjust="spacingAndGlyphs">8</text>
<text x="490.60" y="221.72" font-size="8.74" font-weight="bold" text-anchor="end" fill="#111" stroke="#111" stroke-width="0.18" textLength="8.68" lengthAdjust="spacingAndGlyphs">10</text>
<text x="490.60" y="199.60" font-size="8.74" font-weight="bold" text-anchor="end" fill="#111" stroke="#111" stroke-width="0.18" textLength="8.68" lengthAdjust="spacingAndGlyphs">12</text>
<text x="490.60" y="177.48" font-size="8.74" font-weight="bold" text-anchor="end" fill="#111" stroke="#111" stroke-width="0.18" textLength="8.68" lengthAdjust="spacingAndGlyphs">14</text>
<text x="504.20" y="327.60" font-size="8.51" font-weight="bold" text-anchor="middle" fill="#111" stroke="#111" stroke-width="0.18" textLength="4.23" lengthAdjust="spacingAndGlyphs">0</text>
<text x="525.86" y="327.60" font-size="8.51" font-weight="bold" text-anchor="middle" fill="#111" stroke="#111" stroke-width="0.18" textLength="8.45" lengthAdjust="spacingAndGlyphs">20</text>
<text x="547.52" y="327.60" font-size="8.51" font-weight="bold" text-anchor="middle" fill="#111" stroke="#111" stroke-width="0.18" textLength="8.45" lengthAdjust="spacingAndGlyphs">40</text>
<text x="569.18" y="327.60" font-size="8.51" font-weight="bold" text-anchor="middle" fill="#111" stroke="#111" stroke-width="0.18" textLength="8.45" lengthAdjust="spacingAndGlyphs">60</text>
<text x="590.84" y="327.60" font-size="8.51" font-weight="bold" text-anchor="middle" fill="#111" stroke="#111" stroke-width="0.18" textLength="8.45" lengthAdjust="spacingAndGlyphs">80</text>
<text x="612.50" y="327.60" font-size="8.51" font-weight="bold" text-anchor="middle" fill="#111" stroke="#111" stroke-width="0.18" textLength="12.68" lengthAdjust="spacingAndGlyphs">100</text>
<text x="634.16" y="327.60" font-size="8.51" font-weight="bold" text-anchor="middle" fill="#111" stroke="#111" stroke-width="0.18" textLength="12.68" lengthAdjust="spacingAndGlyphs">120</text>
<text x="655.82" y="327.60" font-size="8.51" font-weight="bold" text-anchor="middle" fill="#111" stroke="#111" stroke-width="0.18" textLength="12.68" lengthAdjust="spacingAndGlyphs">140</text>
<text x="677.48" y="327.60" font-size="8.51" font-weight="bold" text-anchor="middle" fill="#111" stroke="#111" stroke-width="0.18" textLength="12.68" lengthAdjust="spacingAndGlyphs">160</text>
<text x="585.20" y="338.20" font-size="10.00" font-weight="bold" text-anchor="middle" fill="#111" stroke="#111" stroke-width="0.0">Strain (%)</text>
<text x="479.40" y="246.00" font-size="10.30" font-weight="bold" text-anchor="middle" fill="#111" stroke="#111" stroke-width="0.0" transform="rotate(-90 479.4 246.0)">Stress (MPa)</text>
<text x="470.40" y="187.30" font-size="13.00" font-weight="bold" text-anchor="start" fill="#111" stroke="#111" stroke-width="0.0">f</text>
</svg></body></html>
